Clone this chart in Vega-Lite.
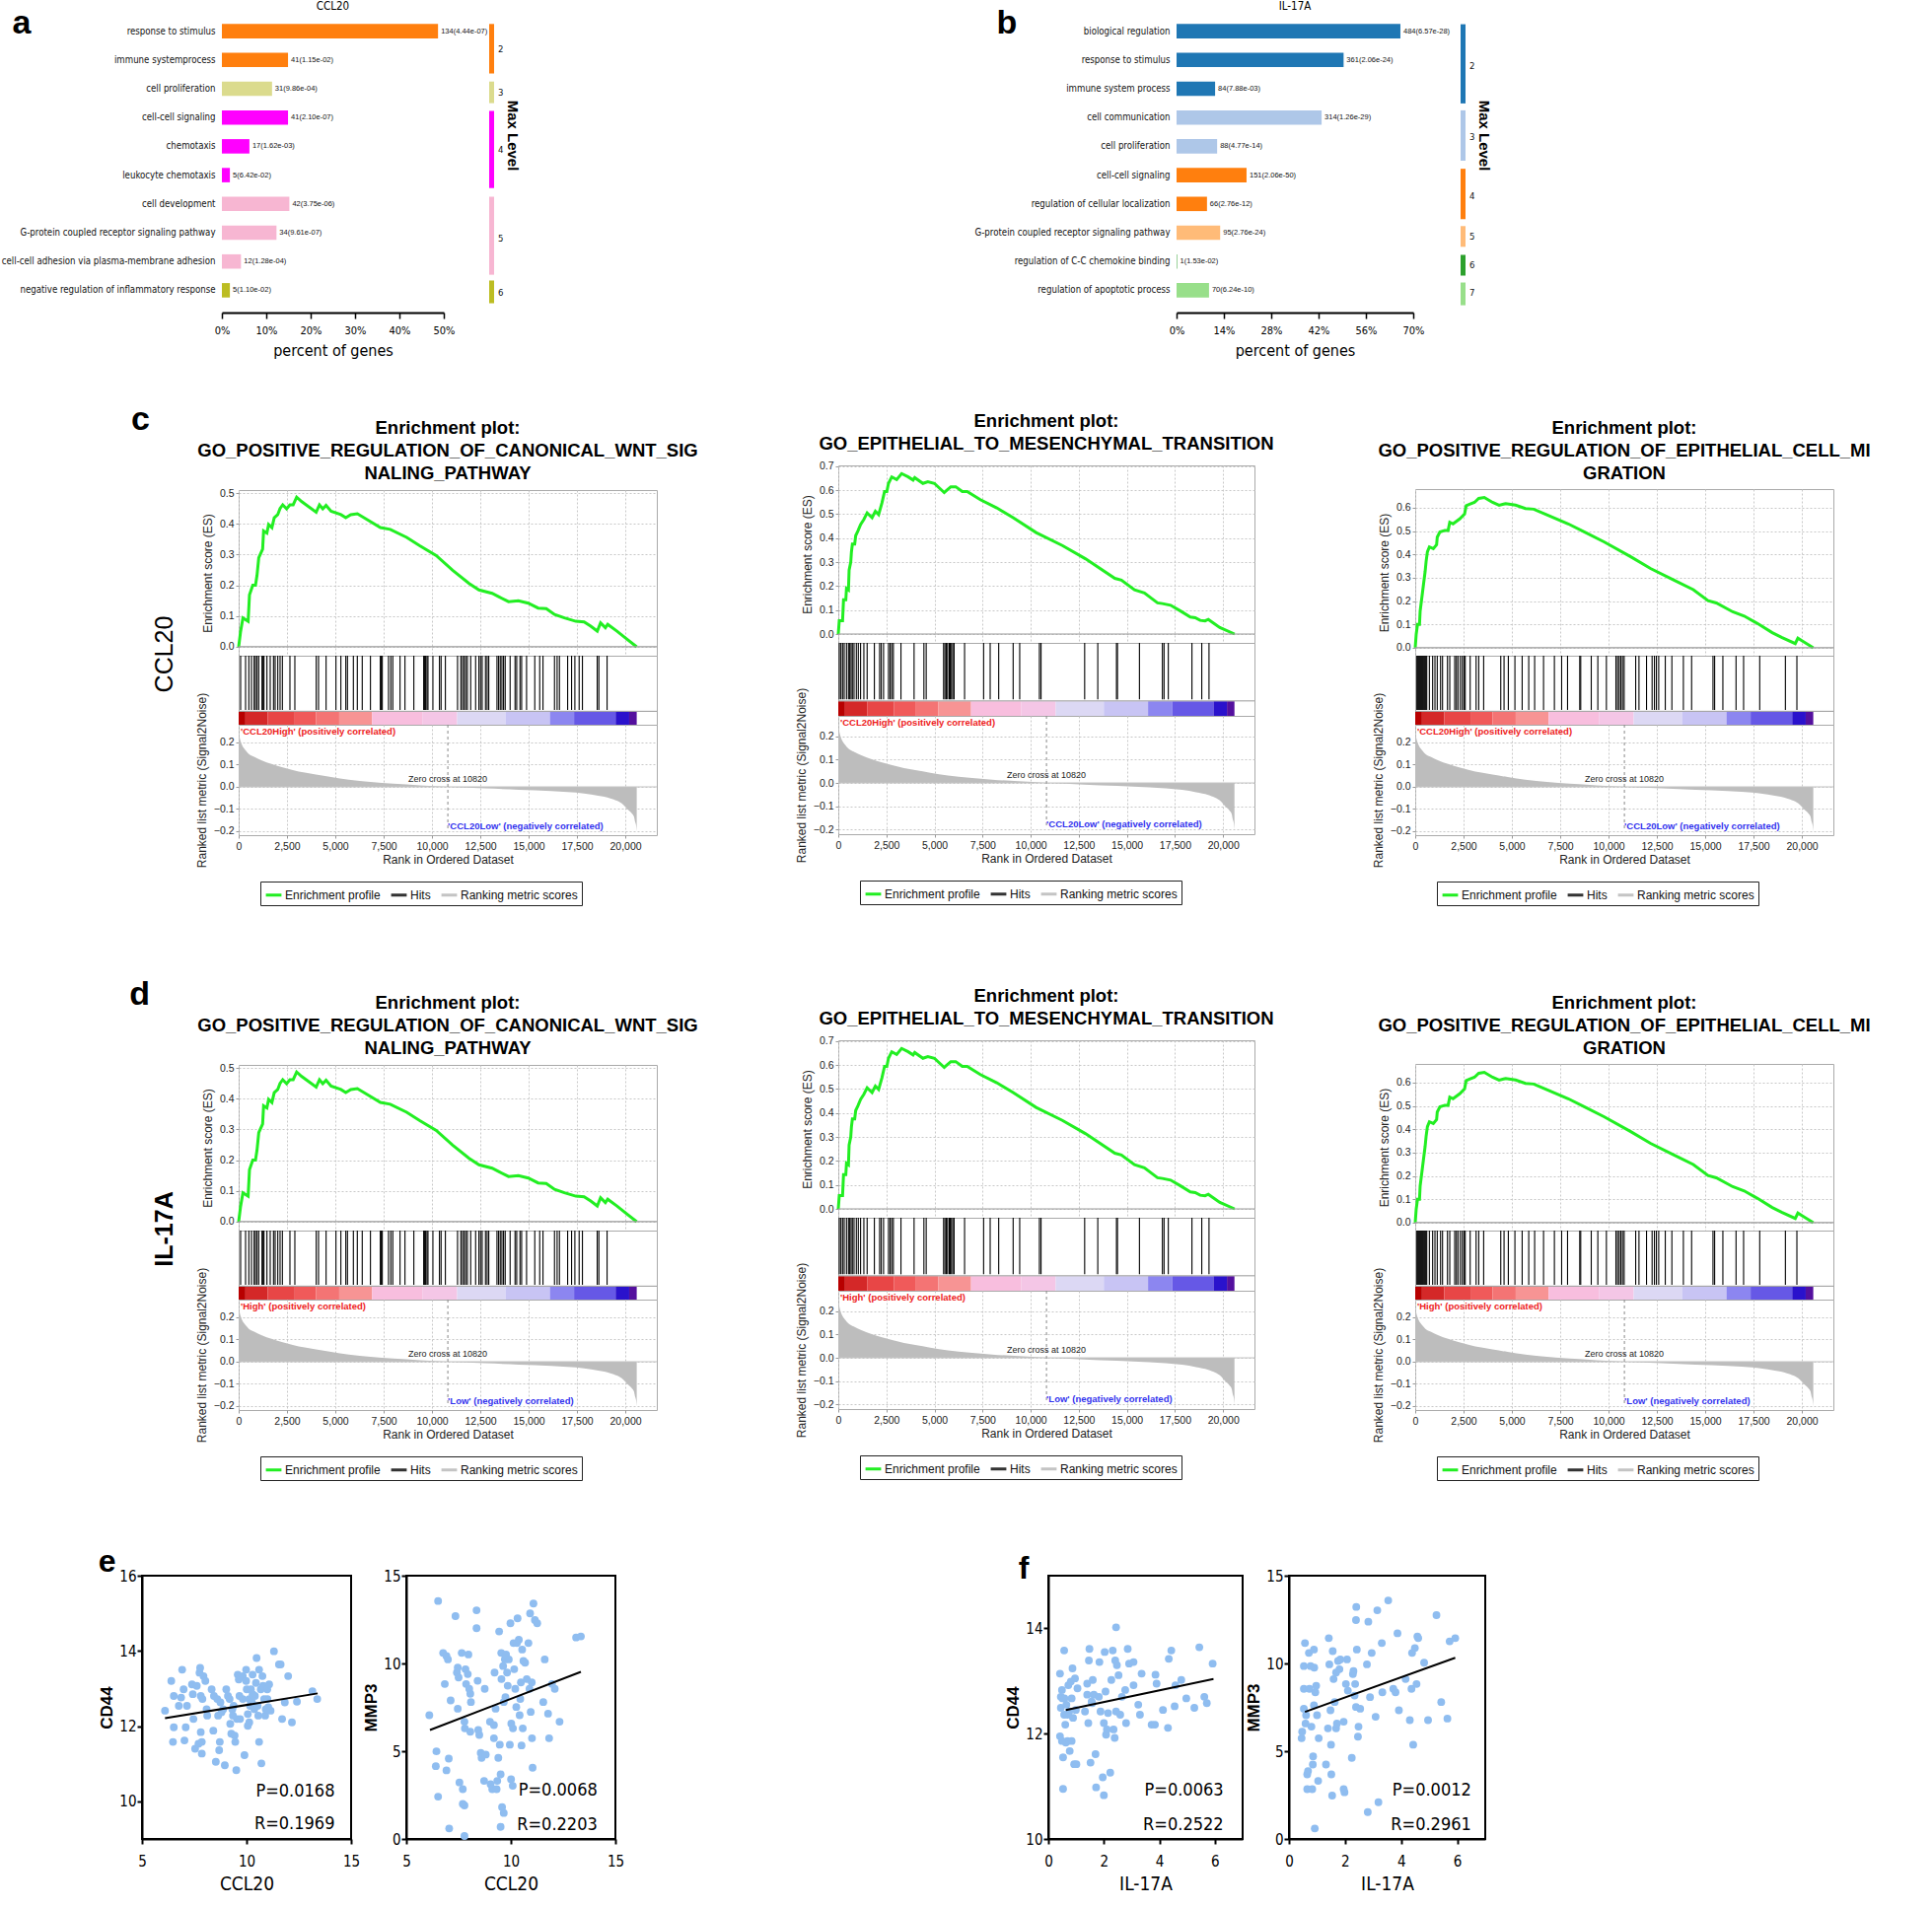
{
"$schema": "https://vega.github.io/schema/vega-lite/v6.json",
"background": "white",
"padding": {"left": 0, "top": 0, "right": 0, "bottom": 0},
"config": {"view": {"stroke": null}, "font": "Liberation Sans", "axis": {"labelFont": "Liberation Sans", "titleFont": "Liberation Sans", "labelColor": "#222", "titleColor": "#222"}, "title": {"font": "Liberation Sans", "color": "#000"}, "legend": {"labelFont": "Liberation Sans"}},
"datasets": {
"goA": [
{"term":"response to stimulus","pct":0.487,"level":"2","label":"134(4.44e-07)"},
{"term":"immune systemprocess","pct":0.149,"level":"2","label":"41(1.15e-02)"},
{"term":"cell proliferation","pct":0.113,"level":"3","label":"31(9.86e-04)"},
{"term":"cell-cell signaling","pct":0.149,"level":"4","label":"41(2.10e-07)"},
{"term":"chemotaxis","pct":0.062,"level":"4","label":"17(1.62e-03)"},
{"term":"leukocyte chemotaxis","pct":0.018,"level":"4","label":"5(6.42e-02)"},
{"term":"cell development","pct":0.152,"level":"5","label":"42(3.75e-06)"},
{"term":"G-protein coupled receptor signaling pathway","pct":0.123,"level":"5","label":"34(9.61e-07)"},
{"term":"cell-cell adhesion via plasma-membrane adhesion","pct":0.043,"level":"5","label":"12(1.28e-04)"},
{"term":"negative regulation of inflammatory response","pct":0.018,"level":"6","label":"5(1.10e-02)"}],
"lvA": [
{"level":"2","start":-0.25,"end":1.47,"mid":0.62},
{"level":"3","start":1.75,"end":2.5,"mid":2.14},
{"level":"4","start":2.77,"end":5.45,"mid":4.13},
{"level":"5","start":5.75,"end":8.46,"mid":7.2},
{"level":"6","start":8.66,"end":9.45,"mid":9.1}],
"goB": [
{"term":"biological regulation","pct":0.662,"level":"2","label":"484(6.57e-28)"},
{"term":"response to stimulus","pct":0.494,"level":"2","label":"361(2.06e-24)"},
{"term":"immune system process","pct":0.114,"level":"2","label":"84(7.88e-03)"},
{"term":"cell communication","pct":0.429,"level":"3","label":"314(1.26e-29)"},
{"term":"cell proliferation","pct":0.12,"level":"3","label":"88(4.77e-14)"},
{"term":"cell-cell signaling","pct":0.207,"level":"4","label":"151(2.06e-50)"},
{"term":"regulation of cellular localization","pct":0.09,"level":"4","label":"66(2.76e-12)"},
{"term":"G-protein coupled receptor signaling pathway","pct":0.129,"level":"5","label":"95(2.76e-24)"},
{"term":"regulation of C-C chemokine binding","pct":0.0014,"level":"6","label":"1(1.53e-02)"},
{"term":"regulation of apoptotic process","pct":0.096,"level":"7","label":"70(6.24e-10)"}],
"lvB": [
{"level":"2","start":-0.24,"end":2.51,"mid":1.2},
{"level":"3","start":2.75,"end":4.5,"mid":3.67},
{"level":"4","start":4.78,"end":6.53,"mid":5.73},
{"level":"5","start":6.77,"end":7.49,"mid":7.14},
{"level":"6","start":7.77,"end":8.49,"mid":8.13},
{"level":"7","start":8.73,"end":9.52,"mid":9.1}],
"es_c1": [
{"rank":0,"es":0},{"rank":100,"es":0.05},{"rank":220,"es":0.094},{"rank":490,"es":0.083},{"rank":560,"es":0.169},{"rank":730,"es":0.2},{"rank":870,"es":0.2},{"rank":950,"es":0.233},{"rank":1040,"es":0.29},{"rank":1240,"es":0.318},{"rank":1290,"es":0.377},{"rank":1460,"es":0.37},{"rank":1550,"es":0.398},{"rank":1720,"es":0.388},{"rank":1840,"es":0.42},{"rank":2020,"es":0.43},{"rank":2140,"es":0.45},{"rank":2280,"es":0.462},{"rank":2480,"es":0.449},{"rank":2650,"es":0.462},{"rank":2820,"es":0.462},{"rank":3000,"es":0.487},{"rank":3250,"es":0.473},{"rank":4010,"es":0.438},{"rank":4180,"es":0.462},{"rank":4350,"es":0.449},{"rank":4520,"es":0.46},{"rank":4780,"es":0.441},{"rank":5290,"es":0.43},{"rank":5540,"es":0.42},{"rank":5800,"es":0.43},{"rank":6140,"es":0.433},{"rank":6650,"es":0.414},{"rank":7330,"es":0.388},{"rank":7840,"es":0.382},{"rank":8690,"es":0.356},{"rank":9370,"es":0.329},{"rank":10220,"es":0.297},{"rank":11070,"es":0.249},{"rank":11920,"es":0.206},{"rank":12430,"es":0.185},{"rank":13110,"es":0.174},{"rank":13450,"es":0.163},{"rank":13960,"es":0.147},{"rank":14470,"es":0.15},{"rank":14980,"es":0.142},{"rank":15490,"es":0.126},{"rank":15910,"es":0.124},{"rank":16340,"es":0.105},{"rank":16850,"es":0.094},{"rank":17440,"es":0.083},{"rank":17870,"es":0.081},{"rank":18210,"es":0.067},{"rank":18550,"es":0.051},{"rank":18720,"es":0.078},{"rank":18970,"es":0.062},{"rank":19090,"es":0.073},{"rank":19570,"es":0.051},{"rank":20080,"es":0.025},{"rank":20590,"es":0}],
"es_c2": [
{"rank":0,"es":0},{"rank":51,"es":0.055},{"rank":222,"es":0.055},{"rank":273,"es":0.143},{"rank":392,"es":0.143},{"rank":426,"es":0.19},{"rank":528,"es":0.184},{"rank":563,"es":0.266},{"rank":648,"es":0.3},{"rank":682,"es":0.341},{"rank":733,"es":0.375},{"rank":853,"es":0.375},{"rank":904,"es":0.41},{"rank":1023,"es":0.43},{"rank":1160,"es":0.457},{"rank":1330,"es":0.478},{"rank":1500,"es":0.505},{"rank":1756,"es":0.485},{"rank":1927,"es":0.512},{"rank":2097,"es":0.498},{"rank":2268,"es":0.546},{"rank":2404,"es":0.594},{"rank":2523,"es":0.594},{"rank":2609,"es":0.628},{"rank":2779,"es":0.655},{"rank":3035,"es":0.644},{"rank":3291,"es":0.669},{"rank":3632,"es":0.655},{"rank":3888,"es":0.642},{"rank":3973,"es":0.652},{"rank":4399,"es":0.628},{"rank":4655,"es":0.635},{"rank":4996,"es":0.628},{"rank":5507,"es":0.59},{"rank":5848,"es":0.614},{"rank":6104,"es":0.614},{"rank":6445,"es":0.594},{"rank":6701,"es":0.594},{"rank":7383,"es":0.56},{"rank":8235,"es":0.526},{"rank":9088,"es":0.485},{"rank":10281,"es":0.423},{"rank":11645,"es":0.369},{"rank":12839,"es":0.314},{"rank":14373,"es":0.232},{"rank":14714,"es":0.225},{"rank":15396,"es":0.184},{"rank":15908,"es":0.171},{"rank":16590,"es":0.13},{"rank":16845,"es":0.127},{"rank":17272,"es":0.12},{"rank":17784,"es":0.096},{"rank":18295,"es":0.071},{"rank":18551,"es":0.068},{"rank":18806,"es":0.057},{"rank":19062,"es":0.055},{"rank":19232,"es":0.061},{"rank":19829,"es":0.027},{"rank":20596,"es":0}],
"es_c3": [
{"rank":0,"es":0},{"rank":51,"es":0.058},{"rank":119,"es":0.1},{"rank":221,"es":0.1},{"rank":255,"es":0.157},{"rank":340,"es":0.213},{"rank":426,"es":0.27},{"rank":511,"es":0.326},{"rank":562,"es":0.369},{"rank":630,"es":0.411},{"rank":732,"es":0.432},{"rank":936,"es":0.425},{"rank":1106,"es":0.442},{"rank":1140,"es":0.474},{"rank":1276,"es":0.496},{"rank":1532,"es":0.503},{"rank":1702,"es":0.503},{"rank":1787,"es":0.538},{"rank":1957,"es":0.531},{"rank":2298,"es":0.552},{"rank":2553,"es":0.573},{"rank":2638,"es":0.609},{"rank":2842,"es":0.616},{"rank":3064,"es":0.623},{"rank":3285,"es":0.64},{"rank":3574,"es":0.644},{"rank":4000,"es":0.623},{"rank":4340,"es":0.611},{"rank":4681,"es":0.618},{"rank":5191,"es":0.611},{"rank":5702,"es":0.597},{"rank":6127,"es":0.594},{"rank":6723,"es":0.573},{"rank":7914,"es":0.531},{"rank":8765,"es":0.496},{"rank":9787,"es":0.453},{"rank":11148,"es":0.39},{"rank":12169,"es":0.34},{"rank":13361,"es":0.291},{"rank":14382,"es":0.249},{"rank":15148,"es":0.202},{"rank":15573,"es":0.192},{"rank":16424,"es":0.154},{"rank":17020,"es":0.136},{"rank":17786,"es":0.1},{"rank":18467,"es":0.065},{"rank":18977,"es":0.044},{"rank":19658,"es":0.018},{"rank":19794,"es":0.041},{"rank":19999,"es":0.03},{"rank":20594,"es":0}],
"hits_c1": [{"rank":102},{"rank":357},{"rank":527},{"rank":663},{"rank":799},{"rank":867},{"rank":952},{"rank":1037},{"rank":1207},{"rank":1258},{"rank":1309},{"rank":1462},{"rank":1632},{"rank":1802},{"rank":1887},{"rank":2023},{"rank":2142},{"rank":2261},{"rank":2652},{"rank":2907},{"rank":4012},{"rank":4131},{"rank":4522},{"rank":5032},{"rank":5287},{"rank":5542},{"rank":5627},{"rank":5933},{"rank":6137},{"rank":6392},{"rank":6817},{"rank":7327},{"rank":7378},{"rank":7429},{"rank":7752},{"rank":7871},{"rank":7973},{"rank":8347},{"rank":8602},{"rank":9061},{"rank":9571},{"rank":9622},{"rank":9673},{"rank":9741},{"rank":9792},{"rank":10047},{"rank":10387},{"rank":10472},{"rank":10693},{"rank":11322},{"rank":11492},{"rank":11577},{"rank":11662},{"rank":11747},{"rank":11832},{"rank":12002},{"rank":12257},{"rank":12427},{"rank":12512},{"rank":12597},{"rank":12767},{"rank":12852},{"rank":12937},{"rank":13362},{"rank":13447},{"rank":13532},{"rank":13617},{"rank":13702},{"rank":13787},{"rank":14042},{"rank":14297},{"rank":14382},{"rank":14552},{"rank":14637},{"rank":14892},{"rank":15317},{"rank":15572},{"rank":15742},{"rank":16337},{"rank":16473},{"rank":16592},{"rank":17017},{"rank":17221},{"rank":17391},{"rank":17612},{"rank":17782},{"rank":18547},{"rank":18632},{"rank":19057}],
"hits_c2": [{"rank":51},{"rank":136},{"rank":222},{"rank":307},{"rank":426},{"rank":529},{"rank":597},{"rank":665},{"rank":733},{"rank":818},{"rank":938},{"rank":1040},{"rank":1159},{"rank":1330},{"rank":1500},{"rank":1876},{"rank":2148},{"rank":2234},{"rank":2353},{"rank":2609},{"rank":2694},{"rank":2779},{"rank":2864},{"rank":3257},{"rank":3939},{"rank":4450},{"rank":4569},{"rank":5473},{"rank":5541},{"rank":5609},{"rank":5678},{"rank":5763},{"rank":5814},{"rank":5882},{"rank":5950},{"rank":6019},{"rank":6564},{"rank":7553},{"rank":7894},{"rank":8337},{"rank":9088},{"rank":9429},{"rank":10452},{"rank":10537},{"rank":12805},{"rank":13487},{"rank":14458},{"rank":14510},{"rank":15652},{"rank":16845},{"rank":16931},{"rank":17152},{"rank":18380},{"rank":18891},{"rank":19267}],
"hits_c3": [{"rank":85},{"rank":136},{"rank":187},{"rank":238},{"rank":289},{"rank":340},{"rank":391},{"rank":443},{"rank":494},{"rank":545},{"rank":596},{"rank":732},{"rank":902},{"rank":1021},{"rank":1140},{"rank":1311},{"rank":1413},{"rank":1668},{"rank":1787},{"rank":2042},{"rank":2128},{"rank":2213},{"rank":2332},{"rank":2434},{"rank":2519},{"rank":2587},{"rank":2842},{"rank":3149},{"rank":3285},{"rank":3540},{"rank":4425},{"rank":4595},{"rank":4817},{"rank":5157},{"rank":5532},{"rank":5872},{"rank":6178},{"rank":6638},{"rank":7199},{"rank":7574},{"rank":7880},{"rank":8510},{"rank":8561},{"rank":9106},{"rank":9446},{"rank":9889},{"rank":10382},{"rank":10467},{"rank":10552},{"rank":10637},{"rank":10723},{"rank":10808},{"rank":11403},{"rank":11574},{"rank":11965},{"rank":12254},{"rank":12374},{"rank":12476},{"rank":12595},{"rank":12935},{"rank":13276},{"rank":13871},{"rank":14297},{"rank":15403},{"rank":15488},{"rank":15914},{"rank":16595},{"rank":16986},{"rank":17820},{"rank":19148},{"rank":19743}],
"band": [{"start":0,"end":350,"seg":"s01"},{"start":350,"end":1500,"seg":"s02"},{"start":1500,"end":2900,"seg":"s03"},{"start":2900,"end":4000,"seg":"s04"},{"start":4000,"end":5200,"seg":"s05"},{"start":5200,"end":6900,"seg":"s06"},{"start":6900,"end":9500,"seg":"s07"},{"start":9500,"end":11300,"seg":"s08"},{"start":11300,"end":13800,"seg":"s09"},{"start":13800,"end":16100,"seg":"s10"},{"start":16100,"end":17350,"seg":"s11"},{"start":17350,"end":19500,"seg":"s12"},{"start":19500,"end":20200,"seg":"s13"},{"start":20200,"end":20590,"seg":"s14"}],
"metric": [{"rank":0,"metric":0.235},{"rank":50,"metric":0.222},{"rank":100,"metric":0.205},{"rank":190,"metric":0.185},{"rank":350,"metric":0.165},{"rank":530,"metric":0.148},{"rank":800,"metric":0.135},{"rank":1200,"metric":0.119},{"rank":1700,"metric":0.103},{"rank":2230,"metric":0.089},{"rank":2800,"metric":0.076},{"rank":3420,"metric":0.064},{"rank":4000,"metric":0.055},{"rank":4780,"metric":0.044},{"rank":5700,"metric":0.032},{"rank":6820,"metric":0.022},{"rank":8000,"metric":0.014},{"rank":9370,"metric":0.007},{"rank":10820,"metric":0},{"rank":12770,"metric":-0.007},{"rank":14500,"metric":-0.013},{"rank":16170,"metric":-0.019},{"rank":17870,"metric":-0.03},{"rank":18600,"metric":-0.04},{"rank":19230,"metric":-0.052},{"rank":19900,"metric":-0.081},{"rank":20100,"metric":-0.1},{"rank":20330,"metric":-0.119},{"rank":20450,"metric":-0.135},{"rank":20500,"metric":-0.156},{"rank":20560,"metric":-0.175},{"rank":20590,"metric":-0.2}],
"sc_e1": [{"x":6.10,"y":12.41},{"x":6.40,"y":13.20},{"x":6.48,"y":11.58},{"x":6.52,"y":11.97},{"x":6.52,"y":12.80},{"x":6.76,"y":12.54},{"x":6.92,"y":13.50},{"x":6.87,"y":12.76},{"x":6.99,"y":12.98},{"x":7.03,"y":11.62},{"x":7.09,"y":11.97},{"x":7.15,"y":12.54},{"x":7.39,"y":13.11},{"x":7.43,"y":12.85},{"x":7.46,"y":12.19},{"x":7.54,"y":11.40},{"x":7.62,"y":13.07},{"x":7.70,"y":11.53},{"x":7.75,"y":13.42},{"x":7.78,"y":13.55},{"x":7.81,"y":12.80},{"x":7.81,"y":11.84},{"x":7.86,"y":11.58},{"x":7.86,"y":11.27},{"x":7.89,"y":12.72},{"x":7.94,"y":13.33},{"x":8.03,"y":13.20},{"x":8.09,"y":12.45},{"x":8.12,"y":12.28},{"x":8.33,"y":12.98},{"x":8.41,"y":11.88},{"x":8.44,"y":12.80},{"x":8.53,"y":11.05},{"x":8.60,"y":12.72},{"x":8.64,"y":12.28},{"x":8.69,"y":11.36},{"x":8.72,"y":11.58},{"x":8.75,"y":12.63},{"x":8.80,"y":12.37},{"x":8.88,"y":12.45},{"x":8.96,"y":10.96},{"x":9.03,"y":12.98},{"x":9.11,"y":12.80},{"x":9.19,"y":12.72},{"x":9.22,"y":12.06},{"x":9.27,"y":11.80},{"x":9.32,"y":12.45},{"x":9.35,"y":12.28},{"x":9.38,"y":12.54},{"x":9.43,"y":11.75},{"x":9.46,"y":11.58},{"x":9.51,"y":10.83},{"x":9.54,"y":12.19},{"x":9.58,"y":13.37},{"x":9.63,"y":13.24},{"x":9.66,"y":12.80},{"x":9.69,"y":12.19},{"x":9.82,"y":12.72},{"x":9.90,"y":11.23},{"x":9.98,"y":13.50},{"x":10.01,"y":12.98},{"x":10.06,"y":12.32},{"x":10.06,"y":12.01},{"x":10.13,"y":12.72},{"x":10.17,"y":12.54},{"x":10.21,"y":12.98},{"x":10.26,"y":12.63},{"x":10.29,"y":13.37},{"x":10.37,"y":12.45},{"x":10.40,"y":12.80},{"x":10.45,"y":13.15},{"x":10.48,"y":13.81},{"x":10.53,"y":12.54},{"x":10.56,"y":12.28},{"x":10.60,"y":11.58},{"x":10.68,"y":12.98},{"x":10.71,"y":11.01},{"x":10.79,"y":13.07},{"x":10.84,"y":12.72},{"x":10.89,"y":12.28},{"x":10.92,"y":12.45},{"x":10.99,"y":12.98},{"x":11.04,"y":12.50},{"x":11.08,"y":13.11},{"x":11.15,"y":12.41},{"x":11.31,"y":13.99},{"x":11.55,"y":13.64},{"x":11.63,"y":13.64},{"x":11.70,"y":12.19},{"x":11.83,"y":12.63},{"x":11.99,"y":13.33},{"x":12.17,"y":12.10},{"x":12.41,"y":12.65},{"x":13.15,"y":12.93},{"x":13.38,"y":12.72},{"x":9.82,"y":13.33},{"x":9.98,"y":13.20},{"x":10.13,"y":12.10},{"x":10.60,"y":13.50},{"x":10.76,"y":13.33},{"x":10.29,"y":12.85},{"x":11.0,"y":12.72}],
"sc_e2": [{"x":6.10,"y":7.05},{"x":6.44,"y":4.99},{"x":6.41,"y":4.15},{"x":6.52,"y":2.41},{"x":6.92,"y":3.91},{"x":7.03,"y":4.58},{"x":7.05,"y":0.60},{"x":6.76,"y":10.60},{"x":6.84,"y":8.83},{"x":6.92,"y":10.42},{"x":6.99,"y":10.23},{"x":7.12,"y":7.89},{"x":6.52,"y":13.56},{"x":7.35,"y":12.70},{"x":7.42,"y":9.48},{"x":7.46,"y":9.76},{"x":7.50,"y":9.20},{"x":7.46,"y":7.42},{"x":7.54,"y":3.22},{"x":7.65,"y":10.60},{"x":7.70,"y":2.84},{"x":7.78,"y":1.91},{"x":7.78,"y":6.68},{"x":7.78,"y":0.17},{"x":7.80,"y":6.30},{"x":7.83,"y":9.67},{"x":7.86,"y":8.83},{"x":7.94,"y":9.39},{"x":7.97,"y":10.51},{"x":8.01,"y":8.55},{"x":8.06,"y":8.27},{"x":8.06,"y":6.11},{"x":8.09,"y":7.80},{"x":8.36,"y":13.03},{"x":8.36,"y":12.01},{"x":8.41,"y":9.01},{"x":8.44,"y":6.21},{"x":8.49,"y":5.93},{"x":8.56,"y":4.90},{"x":8.60,"y":4.62},{"x":8.72,"y":3.31},{"x":8.75,"y":8.55},{"x":8.80,"y":4.81},{"x":9.00,"y":6.68},{"x":9.03,"y":3.12},{"x":9.11,"y":2.84},{"x":9.19,"y":6.49},{"x":9.19,"y":5.74},{"x":9.22,"y":9.48},{"x":9.27,"y":7.42},{"x":9.32,"y":2.84},{"x":9.35,"y":3.31},{"x":9.40,"y":4.62},{"x":9.44,"y":11.82},{"x":9.47,"y":5.37},{"x":9.51,"y":3.68},{"x":9.54,"y":10.60},{"x":9.55,"y":9.11},{"x":9.58,"y":1.81},{"x":9.63,"y":9.85},{"x":9.66,"y":7.80},{"x":9.71,"y":10.23},{"x":9.74,"y":8.08},{"x":9.77,"y":10.51},{"x":9.82,"y":9.48},{"x":9.85,"y":8.73},{"x":9.90,"y":10.23},{"x":9.95,"y":5.37},{"x":9.98,"y":12.29},{"x":10.01,"y":3.40},{"x":10.02,"y":6.58},{"x":10.10,"y":6.30},{"x":10.09,"y":3.03},{"x":10.13,"y":11.16},{"x":10.16,"y":9.67},{"x":10.21,"y":8.55},{"x":10.26,"y":7.52},{"x":10.29,"y":11.16},{"x":10.32,"y":12.57},{"x":10.38,"y":11.35},{"x":10.42,"y":7.05},{"x":10.45,"y":7.98},{"x":10.48,"y":8.92},{"x":10.51,"y":5.33},{"x":10.54,"y":10.79},{"x":10.57,"y":6.30},{"x":10.60,"y":10.14},{"x":10.68,"y":10.04},{"x":10.76,"y":9.11},{"x":10.84,"y":11.16},{"x":10.89,"y":8.55},{"x":10.92,"y":12.85},{"x":10.95,"y":7.24},{"x":11.00,"y":8.92},{"x":11.01,"y":5.74},{"x":11.04,"y":4.06},{"x":11.08,"y":13.41},{"x":11.15,"y":12.47},{"x":11.26,"y":12.29},{"x":11.55,"y":7.80},{"x":11.62,"y":10.23},{"x":11.78,"y":7.14},{"x":11.83,"y":5.74},{"x":11.97,"y":8.83},{"x":12.10,"y":8.55},{"x":12.33,"y":6.68},{"x":13.12,"y":11.48},{"x":13.35,"y":11.54},{"x":9.51,"y":0.69},{"x":9.66,"y":1.48},{"x":7.70,"y":2.0}],
"sc_f1": [{"x":0.42,"y":13.14},{"x":0.42,"y":11.95},{"x":0.45,"y":12.70},{"x":0.45,"y":12.49},{"x":0.49,"y":12.83},{"x":0.51,"y":12.67},{"x":0.53,"y":10.95},{"x":0.53,"y":11.55},{"x":0.57,"y":13.58},{"x":0.57,"y":12.36},{"x":0.61,"y":12.17},{"x":0.63,"y":11.83},{"x":0.65,"y":12.55},{"x":0.69,"y":11.86},{"x":0.72,"y":12.92},{"x":0.75,"y":12.42},{"x":0.77,"y":11.67},{"x":0.81,"y":12.99},{"x":0.84,"y":12.67},{"x":0.84,"y":11.86},{"x":0.87,"y":13.24},{"x":0.89,"y":12.30},{"x":0.93,"y":11.42},{"x":0.96,"y":13.05},{"x":0.99,"y":12.45},{"x":1.01,"y":11.42},{"x":1.05,"y":12.86},{"x":1.32,"y":12.42},{"x":1.40,"y":12.74},{"x":1.40,"y":12.95},{"x":1.44,"y":12.20},{"x":1.46,"y":13.39},{"x":1.48,"y":13.61},{"x":1.52,"y":11.45},{"x":1.56,"y":12.61},{"x":1.58,"y":12.58},{"x":1.60,"y":13.02},{"x":1.64,"y":12.74},{"x":1.70,"y":11.61},{"x":1.72,"y":10.98},{"x":1.82,"y":12.70},{"x":1.84,"y":13.36},{"x":1.88,"y":12.42},{"x":1.96,"y":11.17},{"x":2.00,"y":12.20},{"x":2.00,"y":10.83},{"x":2.03,"y":13.55},{"x":2.06,"y":12.80},{"x":2.08,"y":11.98},{"x":2.11,"y":12.08},{"x":2.15,"y":12.39},{"x":2.23,"y":11.26},{"x":2.27,"y":13.02},{"x":2.32,"y":13.58},{"x":2.35,"y":12.08},{"x":2.39,"y":11.92},{"x":2.41,"y":13.39},{"x":2.44,"y":12.42},{"x":2.44,"y":14.02},{"x":2.47,"y":13.30},{"x":2.53,"y":13.11},{"x":2.59,"y":12.36},{"x":2.65,"y":12.70},{"x":2.77,"y":12.83},{"x":2.80,"y":12.20},{"x":2.86,"y":13.61},{"x":2.91,"y":13.33},{"x":3.07,"y":13.36},{"x":3.07,"y":12.92},{"x":3.24,"y":12.55},{"x":3.30,"y":12.36},{"x":3.36,"y":13.14},{"x":3.72,"y":12.17},{"x":3.84,"y":12.17},{"x":3.86,"y":13.12},{"x":3.90,"y":12.95},{"x":4.13,"y":12.45},{"x":4.31,"y":12.11},{"x":4.34,"y":13.42},{"x":4.43,"y":13.58},{"x":4.55,"y":12.52},{"x":4.58,"y":12.92},{"x":4.79,"y":13.02},{"x":4.97,"y":12.67},{"x":5.26,"y":12.49},{"x":5.44,"y":13.64},{"x":5.62,"y":12.70},{"x":5.71,"y":12.58},{"x":5.92,"y":13.33},{"x":0.58,"y":12.67},{"x":0.69,"y":12.36},{"x":0.49,"y":11.86}],
"sc_f2": [{"x":0.45,"y":5.74},{"x":0.47,"y":6.11},{"x":0.53,"y":7.42},{"x":0.53,"y":8.55},{"x":0.53,"y":9.85},{"x":0.57,"y":11.16},{"x":0.59,"y":6.58},{"x":0.61,"y":7.05},{"x":0.65,"y":3.68},{"x":0.65,"y":2.84},{"x":0.68,"y":3.87},{"x":0.71,"y":10.60},{"x":0.73,"y":8.55},{"x":0.77,"y":9.85},{"x":0.80,"y":6.40},{"x":0.83,"y":2.84},{"x":0.85,"y":4.24},{"x":0.86,"y":4.71},{"x":0.89,"y":10.79},{"x":0.89,"y":7.61},{"x":0.90,"y":9.76},{"x":0.92,"y":0.60},{"x":0.94,"y":8.36},{"x":0.97,"y":8.73},{"x":1.00,"y":7.05},{"x":1.04,"y":3.31},{"x":1.06,"y":5.74},{"x":1.32,"y":4.24},{"x":1.39,"y":6.30},{"x":1.42,"y":11.44},{"x":1.44,"y":9.95},{"x":1.48,"y":7.33},{"x":1.50,"y":5.37},{"x":1.51,"y":3.68},{"x":1.54,"y":2.47},{"x":1.56,"y":10.70},{"x":1.59,"y":9.11},{"x":1.63,"y":7.80},{"x":1.68,"y":9.48},{"x":1.68,"y":6.30},{"x":1.71,"y":6.58},{"x":1.75,"y":10.14},{"x":1.80,"y":9.67},{"x":1.83,"y":10.23},{"x":1.95,"y":6.68},{"x":1.98,"y":2.66},{"x":2.03,"y":8.83},{"x":2.07,"y":10.23},{"x":2.10,"y":8.45},{"x":2.24,"y":4.62},{"x":2.28,"y":9.39},{"x":2.30,"y":9.57},{"x":2.34,"y":8.17},{"x":2.36,"y":8.83},{"x":2.39,"y":7.52},{"x":2.39,"y":12.47},{"x":2.40,"y":13.22},{"x":2.42,"y":10.79},{"x":2.46,"y":5.83},{"x":2.54,"y":7.42},{"x":2.78,"y":9.95},{"x":2.83,"y":12.38},{"x":2.89,"y":8.08},{"x":2.95,"y":10.60},{"x":3.09,"y":6.96},{"x":3.15,"y":13.03},{"x":3.19,"y":2.09},{"x":3.31,"y":11.16},{"x":3.33,"y":8.36},{"x":3.54,"y":13.59},{"x":3.72,"y":8.55},{"x":3.80,"y":8.36},{"x":3.87,"y":11.72},{"x":3.92,"y":7.33},{"x":4.16,"y":9.11},{"x":4.31,"y":6.77},{"x":4.37,"y":8.55},{"x":4.39,"y":10.60},{"x":4.43,"y":5.37},{"x":4.49,"y":10.88},{"x":4.55,"y":8.83},{"x":4.58,"y":11.54},{"x":4.61,"y":11.44},{"x":4.82,"y":10.04},{"x":4.96,"y":6.77},{"x":5.26,"y":12.75},{"x":5.43,"y":7.80},{"x":5.65,"y":6.86},{"x":5.73,"y":11.26},{"x":5.93,"y":11.44},{"x":2.48,"y":6.40},{"x":1.95,"y":2.84},{"x":2.81,"y":1.53}],
"ln_e1": [{"x":6.1,"y":12.21},{"x":13.4,"y":12.87}],
"ln_e2": [{"x":6.13,"y":6.21},{"x":13.35,"y":9.52}],
"ln_f1": [{"x":0.63,"y":12.45},{"x":5.95,"y":13.04}],
"ln_f2": [{"x":0.57,"y":7.24},{"x":5.93,"y":10.32}]
},
"spacing": 46,
"resolve": {"scale": {"color": "independent"}},
"vconcat": [
{"spacing": 0, "resolve": {"scale": {"color": "independent"}}, "hconcat": [
 {"width": 1, "height": 10, "data": {"values": [{}]}, "mark": {"type": "text", "text": " "}},
 {"spacing": 462, "resolve": {"scale": {"color": "independent"}}, "hconcat": [
 {"bounds": "flush", "spacing": 46, "resolve": {"scale": {"color": "independent"}}, "hconcat": [
  {"width": 225, "height": 292,
   "title": {"text": "CCL20", "fontSize": 11.5, "font": "DejaVu Sans Condensed", "fontWeight": "normal", "offset": -6},
   "data": {"name": "goA"},
   "layer": [
    {"mark": {"type": "bar"}, "encoding": {
      "y": {"field": "term", "type": "nominal", "sort": null, "scale": {"paddingInner": 0.5, "paddingOuter": 0.25}, "axis": {"title": "a", "titleAngle": 0, "titleFontSize": 34, "titleFontWeight": "bold", "titleFont": "Liberation Sans", "titleColor": "#000", "titleAlign": "left", "titleBaseline": "alphabetic", "titleX": -213, "titleY": 16, "labelFont": "DejaVu Sans Condensed", "labelFontSize": 9.6, "labelColor": "#111", "labelPadding": 7, "ticks": false, "domain": false, "labelLimit": 400}},
      "x": {"field": "pct", "type": "quantitative", "scale": {"domain": [0, 0.5], "nice": false}, "axis": {"values": [0, 0.1, 0.2, 0.3, 0.4, 0.5], "tickCount": 6, "format": ".0%", "domainColor": "#000", "domainWidth": 2, "tickColor": "#000", "tickWidth": 1.5, "tickSize": 6, "offset": 8, "labelFont": "DejaVu Sans Condensed", "labelFontSize": 11, "labelColor": "#000", "labelPadding": 6, "labelFlush": false, "labelOverlap": false, "title": "percent of genes", "titleFont": "DejaVu Sans Condensed", "titleFontSize": 16, "titleFontWeight": "normal", "titleColor": "#000", "titlePadding": 7, "grid": false}},
      "color": {"field": "level", "type": "nominal", "scale": {"domain": ["2", "3", "4", "5", "6"], "range": ["#ff7f0e", "#dbdb8d", "#ff00ff", "#f7b6d2", "#bcbd22"]}, "legend": null}}},
    {"mark": {"type": "text", "align": "left", "baseline": "middle", "dx": 3, "fontSize": 7.5, "font": "Liberation Sans", "color": "#111"}, "encoding": {
      "y": {"field": "term", "type": "nominal", "sort": null},
      "x": {"field": "pct", "type": "quantitative"},
      "text": {"field": "label"}}}
   ]},
  {"width": 5, "height": 292,
   "data": {"name": "lvA"},
   "layer": [
    {"mark": {"type": "rect"}, "encoding": {
      "y": {"field": "start", "type": "quantitative", "scale": {"domain": [-0.5, 9.5], "reverse": true, "nice": false, "zero": false}, "axis": {"orient": "right", "title": "Max Level", "titleFontSize": 15, "titleFontWeight": "bold", "titleColor": "#000", "titlePadding": 10, "titleY": 120, "labels": false, "ticks": false, "domain": false, "grid": false}},
      "y2": {"field": "end"},
      "x": {"datum": 0, "type": "quantitative", "scale": {"domain": [0, 1], "nice": false}, "axis": null},
      "x2": {"datum": 1},
      "color": {"field": "level", "type": "nominal", "scale": {"domain": ["2", "3", "4", "5", "6"], "range": ["#ff7f0e", "#dbdb8d", "#ff00ff", "#f7b6d2", "#bcbd22"]}, "legend": null}}},
    {"mark": {"type": "text", "align": "left", "baseline": "middle", "dx": 4, "fontSize": 9.5, "font": "DejaVu Sans Condensed", "color": "#111"}, "encoding": {
      "y": {"field": "mid", "type": "quantitative", "axis": {"orient": "right", "title": "Max Level", "titleFontSize": 15, "titleFontWeight": "bold", "titleColor": "#000", "titlePadding": 10, "titleY": 120, "labels": false, "ticks": false, "domain": false, "grid": false}},
      "x": {"datum": 1, "type": "quantitative", "axis": null},
      "text": {"field": "level"}}}
   ]}
 ]},
 {"bounds": "flush", "spacing": 48, "resolve": {"scale": {"color": "independent"}}, "hconcat": [
  {"width": 240, "height": 292,
   "title": {"text": "IL-17A", "fontSize": 11.5, "font": "DejaVu Sans Condensed", "fontWeight": "normal", "offset": -6},
   "data": {"name": "goB"},
   "layer": [
    {"mark": {"type": "bar"}, "encoding": {
      "y": {"field": "term", "type": "nominal", "sort": null, "scale": {"paddingInner": 0.5, "paddingOuter": 0.25}, "axis": {"title": "b", "titleAngle": 0, "titleFontSize": 34, "titleFontWeight": "bold", "titleFont": "Liberation Sans", "titleColor": "#000", "titleAlign": "left", "titleBaseline": "alphabetic", "titleX": -183, "titleY": 16, "labelFont": "DejaVu Sans Condensed", "labelFontSize": 9.6, "labelColor": "#111", "labelPadding": 7, "ticks": false, "domain": false, "labelLimit": 400}},
      "x": {"field": "pct", "type": "quantitative", "scale": {"domain": [0, 0.7], "nice": false}, "axis": {"values": [0, 0.14, 0.28, 0.42, 0.56, 0.7], "tickCount": 6, "format": ".0%", "domainColor": "#000", "domainWidth": 2, "tickColor": "#000", "tickWidth": 1.5, "tickSize": 6, "offset": 8, "labelFont": "DejaVu Sans Condensed", "labelFontSize": 11, "labelColor": "#000", "labelPadding": 6, "labelFlush": false, "labelOverlap": false, "title": "percent of genes", "titleFont": "DejaVu Sans Condensed", "titleFontSize": 16, "titleFontWeight": "normal", "titleColor": "#000", "titlePadding": 7, "grid": false}},
      "color": {"field": "level", "type": "nominal", "scale": {"domain": ["2", "3", "4", "5", "6", "7"], "range": ["#1f77b4", "#aec7e8", "#ff7f0e", "#ffbb78", "#2ca02c", "#98df8a"]}, "legend": null}}},
    {"mark": {"type": "text", "align": "left", "baseline": "middle", "dx": 3, "fontSize": 7.5, "font": "Liberation Sans", "color": "#111"}, "encoding": {
      "y": {"field": "term", "type": "nominal", "sort": null},
      "x": {"field": "pct", "type": "quantitative"},
      "text": {"field": "label"}}}
   ]},
  {"width": 5, "height": 292,
   "data": {"name": "lvB"},
   "layer": [
    {"mark": {"type": "rect"}, "encoding": {
      "y": {"field": "start", "type": "quantitative", "scale": {"domain": [-0.5, 9.5], "reverse": true, "nice": false, "zero": false}, "axis": {"orient": "right", "title": "Max Level", "titleFontSize": 15, "titleFontWeight": "bold", "titleColor": "#000", "titlePadding": 10, "titleY": 120, "labels": false, "ticks": false, "domain": false, "grid": false}},
      "y2": {"field": "end"},
      "x": {"datum": 0, "type": "quantitative", "scale": {"domain": [0, 1], "nice": false}, "axis": null},
      "x2": {"datum": 1},
      "color": {"field": "level", "type": "nominal", "scale": {"domain": ["2", "3", "4", "5", "6", "7"], "range": ["#1f77b4", "#aec7e8", "#ff7f0e", "#ffbb78", "#2ca02c", "#98df8a"]}, "legend": null}}},
    {"mark": {"type": "text", "align": "left", "baseline": "middle", "dx": 4, "fontSize": 9.5, "font": "DejaVu Sans Condensed", "color": "#111"}, "encoding": {
      "y": {"field": "mid", "type": "quantitative", "axis": {"orient": "right", "title": "Max Level", "titleFontSize": 15, "titleFontWeight": "bold", "titleColor": "#000", "titlePadding": 10, "titleY": 120, "labels": false, "ticks": false, "domain": false, "grid": false}},
      "x": {"datum": 1, "type": "quantitative", "axis": null},
      "text": {"field": "level"}}}
   ]}
 ]}
 ]}
]},
{
"spacing": 73,
"resolve": {"scale": {"color": "independent"}},
"vconcat": [
{"align": "none", "spacing": 18, "resolve": {"scale": {"color": "independent"}}, "hconcat": [
 {"width": 152, "height": 382,
  "title": {"text": "c", "anchor": "end", "frame": "group", "fontSize": 34, "fontWeight": "bold", "font": "Liberation Sans", "offset": 29},
  "data": {"values": [{}]},
  "mark": {"type": "text", "text": " "},
  "encoding": {"y": {"datum": 0, "type": "quantitative", "scale": {"domain": [0, 1]}, "axis": {"orient": "right", "title": "CCL20", "titleFontSize": 25, "titleFontWeight": "normal", "titleColor": "#000", "titleAngle": 270, "titleBaseline": "top", "titlePadding": 2, "labels": false, "ticks": false, "domain": false, "grid": false}}}},
 {"align": "none", "spacing": 97, "resolve": {"scale": {"color": "independent"}}, "hconcat": [
  {"bounds": "flush", "spacing": 0, "resolve": {"scale": {"color": "independent"}},
   "vconcat": [
    {"width": 424, "height": 25, "title": {"text": ["Enrichment plot:", "GO_POSITIVE_REGULATION_OF_CANONICAL_WNT_SIG", "NALING_PATHWAY"], "anchor": "middle", "frame": "group", "fontSize": 18.5, "fontWeight": "bold", "font": "Liberation Sans", "lineHeight": 23, "offset": -17, "color": "#000"}, "data": {"values": [{}]}, "mark": {"type": "text", "text": " "}},
    {"width": 424, "height": 168, "view": {"stroke": "#aaaaaa"},
     "layer": [
      {"data": {"name": "es_c1"}, "mark": {"type": "line", "color": "#22ee22", "strokeWidth": 3}, "encoding": {
        "x": {"field": "rank", "type": "quantitative", "scale": {"domain": [0, 21630], "nice": false, "zero": false}, "axis": {"values": [0, 2500, 5000, 7500, 10000, 12500, 15000, 17500, 20000], "tickCount": 9, "labels": false, "ticks": false, "domain": false, "title": null, "grid": true, "gridDash": [2, 2], "gridColor": "#c8c8c8"}},
        "y": {"field": "es", "type": "quantitative", "scale": {"domain": [-0.029, 0.51], "nice": false, "zero": false}, "axis": {"values": [0, 0.1, 0.2, 0.3, 0.4, 0.5], "tickCount": 6, "format": ".1f", "labelOverlap": false, "title": "Enrichment score (ES)", "titleFontSize": 12, "titleFontWeight": "normal", "labelFontSize": 10.5, "tickSize": 3, "tickColor": "#999", "domain": false, "grid": true, "gridDash": [2, 2], "gridColor": "#c8c8c8", "titlePadding": 5, "labelPadding": 2}}}},
      {"data": {"values": [{}]}, "mark": {"type": "rule", "color": "#9a9a9a", "strokeWidth": 1.2}, "encoding": {"y": {"datum": 0, "type": "quantitative"}}}
     ]},
    {"width": 424, "height": 70, "view": {"stroke": "#aaaaaa"},
     "layer": [
      {"data": {"name": "band"}, "mark": {"type": "rect"}, "encoding": {
        "x": {"field": "start", "type": "quantitative", "scale": {"domain": [0, 21630], "nice": false, "zero": false}, "axis": null},
        "x2": {"field": "end"},
        "y": {"datum": 0, "type": "quantitative", "scale": {"domain": [0, 1], "nice": false}, "axis": null},
        "y2": {"datum": 0.19},
        "color": {"field": "seg", "type": "nominal", "scale": {"domain": ["s01","s02","s03","s04","s05","s06","s07","s08","s09","s10","s11","s12","s13","s14"], "range": ["#b80000","#d42828","#e84646","#f05a5a","#f47474","#f79494","#f8bede","#f4c6e6","#dcd8f4","#c8c4f4","#8c86f0","#6658e6","#2a12cc","#54109e"]}, "legend": null}}},
      {"data": {"name": "hits_c1"}, "mark": {"type": "rule", "color": "#000", "strokeWidth": 1.1}, "encoding": {"x": {"field": "rank", "type": "quantitative", "axis": null}, "y": {"datum": 0.215, "axis": null}, "y2": {"datum": 1}}},
      {"data": {"values": [{}]}, "mark": {"type": "rule", "color": "#999", "strokeWidth": 1}, "encoding": {"y": {"datum": 0.195, "axis": null}}}
     ]},
    {"width": 424, "height": 112, "view": {"stroke": "#aaaaaa"},
     "layer": [
      {"data": {"name": "metric"}, "mark": {"type": "area", "interpolate": "monotone", "color": "#bdbdbd"}, "encoding": {
        "x": {"field": "rank", "type": "quantitative", "scale": {"domain": [0, 21630], "nice": false, "zero": false}, "axis": {"values": [0, 2500, 5000, 7500, 10000, 12500, 15000, 17500, 20000], "tickCount": 9, "format": ",.0f", "labelFontSize": 10.5, "labelOverlap": false, "labelFlush": false, "tickSize": 3, "tickColor": "#999", "domain": false, "grid": true, "gridDash": [2, 2], "gridColor": "#c8c8c8", "title": "Rank in Ordered Dataset", "titleFontSize": 12, "titleFontWeight": "normal", "titlePadding": 3, "labelPadding": 3}},
        "y": {"field": "metric", "type": "quantitative", "scale": {"domain": [-0.218, 0.28], "nice": false, "zero": false}, "axis": {"values": [-0.2, -0.1, 0, 0.1, 0.2], "tickCount": 5, "format": ".1f", "labelOverlap": false, "labelFontSize": 10.5, "tickSize": 3, "tickColor": "#999", "domain": false, "grid": true, "gridDash": [2, 2], "gridColor": "#c8c8c8", "title": "Ranked list metric (Signal2Noise)", "titleFontSize": 12, "titleFontWeight": "normal", "titlePadding": 5, "labelPadding": 2}},
        "y2": {"datum": 0}}},
      {"data": {"values": [{}]}, "mark": {"type": "rule", "strokeWidth": 1}, "encoding": {"y": {"datum": 0, "type": "quantitative"}, "color": {"datum": "Ranking metric scores", "type": "nominal", "scale": {"domain": ["Enrichment profile", "Hits", "Ranking metric scores"], "range": ["#22ee22", "#333333", "#c4c4c4"]}, "legend": {"orient": "none", "legendX": 22, "legendY": 159, "direction": "horizontal", "title": null, "symbolType": "stroke", "symbolStrokeWidth": 3, "symbolSize": 250, "labelFontSize": 12, "labelColor": "#111", "strokeColor": "#222", "padding": 4, "columnPadding": 4, "labelOffset": 2}}}},
      {"data": {"values": [{}]}, "mark": {"type": "rule", "strokeDash": [3, 3], "color": "#888", "strokeWidth": 1}, "encoding": {"x": {"datum": 10820}, "y": {"datum": 0.28, "type": "quantitative"}, "y2": {"datum": -0.19}}},
      {"data": {"values": [{}]}, "mark": {"type": "text", "text": "Zero cross at 10820", "fontSize": 9, "baseline": "bottom", "dy": -3, "color": "#222"}, "encoding": {"x": {"datum": 10820}, "y": {"datum": 0, "type": "quantitative"}}},
      {"data": {"values": [{}]}, "mark": {"type": "text", "text": "'CCL20High' (positively correlated)", "fontSize": 9.5, "fontWeight": "bold", "align": "left", "baseline": "top", "dx": 2, "dy": 2, "color": "#ee2222"}, "encoding": {"x": {"datum": 0}, "y": {"datum": 0.28, "type": "quantitative"}}},
      {"data": {"values": [{}]}, "mark": {"type": "text", "text": "'CCL20Low' (negatively correlated)", "fontSize": 9.5, "fontWeight": "bold", "align": "left", "baseline": "bottom", "color": "#3333ee"}, "encoding": {"x": {"datum": 10820}, "y": {"datum": -0.2, "type": "quantitative"}}}
     ]}
   ]},
  {"bounds": "flush", "spacing": 0, "resolve": {"scale": {"color": "independent"}},
   "vconcat": [
    {"width": 422, "height": 180, "view": {"stroke": "#aaaaaa"},
     "title": {"text": ["Enrichment plot:", "GO_EPITHELIAL_TO_MESENCHYMAL_TRANSITION"], "anchor": "middle", "frame": "group", "fontSize": 18.5, "fontWeight": "bold", "font": "Liberation Sans", "lineHeight": 23, "offset": 8, "color": "#000"},
     "layer": [
      {"data": {"name": "es_c2"}, "mark": {"type": "line", "color": "#22ee22", "strokeWidth": 3}, "encoding": {
        "x": {"field": "rank", "type": "quantitative", "scale": {"domain": [0, 21630], "nice": false, "zero": false}, "axis": {"values": [0, 2500, 5000, 7500, 10000, 12500, 15000, 17500, 20000], "tickCount": 9, "labels": false, "ticks": false, "domain": false, "title": null, "grid": true, "gridDash": [2, 2], "gridColor": "#c8c8c8"}},
        "y": {"field": "es", "type": "quantitative", "scale": {"domain": [-0.037, 0.703], "nice": false, "zero": false}, "axis": {"values": [0, 0.1, 0.2, 0.3, 0.4, 0.5, 0.6, 0.7], "tickCount": 8, "format": ".1f", "labelOverlap": false, "title": "Enrichment score (ES)", "titleFontSize": 12, "titleFontWeight": "normal", "labelFontSize": 10.5, "tickSize": 3, "tickColor": "#999", "domain": false, "grid": true, "gridDash": [2, 2], "gridColor": "#c8c8c8", "titlePadding": 5, "labelPadding": 2}}}},
      {"data": {"values": [{}]}, "mark": {"type": "rule", "color": "#9a9a9a", "strokeWidth": 1.2}, "encoding": {"y": {"datum": 0, "type": "quantitative"}}}
     ]},
    {"width": 422, "height": 74, "view": {"stroke": "#aaaaaa"},
     "layer": [
      {"data": {"name": "band"}, "mark": {"type": "rect"}, "encoding": {
        "x": {"field": "start", "type": "quantitative", "scale": {"domain": [0, 21630], "nice": false, "zero": false}, "axis": null},
        "x2": {"field": "end"},
        "y": {"datum": 0, "type": "quantitative", "scale": {"domain": [0, 1], "nice": false}, "axis": null},
        "y2": {"datum": 0.2},
        "color": {"field": "seg", "type": "nominal", "scale": {"domain": ["s01","s02","s03","s04","s05","s06","s07","s08","s09","s10","s11","s12","s13","s14"], "range": ["#b80000","#d42828","#e84646","#f05a5a","#f47474","#f79494","#f8bede","#f4c6e6","#dcd8f4","#c8c4f4","#8c86f0","#6658e6","#2a12cc","#54109e"]}, "legend": null}}},
      {"data": {"name": "hits_c2"}, "mark": {"type": "rule", "color": "#000", "strokeWidth": 1.1}, "encoding": {"x": {"field": "rank", "type": "quantitative", "axis": null}, "y": {"datum": 0.225, "axis": null}, "y2": {"datum": 1}}},
      {"data": {"values": [{}]}, "mark": {"type": "rule", "color": "#999", "strokeWidth": 1}, "encoding": {"y": {"datum": 0.205, "axis": null}}}
     ]},
    {"width": 422, "height": 120, "view": {"stroke": "#aaaaaa"},
     "layer": [
      {"data": {"name": "metric"}, "mark": {"type": "area", "interpolate": "monotone", "color": "#bdbdbd"}, "encoding": {
        "x": {"field": "rank", "type": "quantitative", "scale": {"domain": [0, 21630], "nice": false, "zero": false}, "axis": {"values": [0, 2500, 5000, 7500, 10000, 12500, 15000, 17500, 20000], "tickCount": 9, "format": ",.0f", "labelFontSize": 10.5, "labelOverlap": false, "labelFlush": false, "tickSize": 3, "tickColor": "#999", "domain": false, "grid": true, "gridDash": [2, 2], "gridColor": "#c8c8c8", "title": "Rank in Ordered Dataset", "titleFontSize": 12, "titleFontWeight": "normal", "titlePadding": 3, "labelPadding": 3}},
        "y": {"field": "metric", "type": "quantitative", "scale": {"domain": [-0.221, 0.289], "nice": false, "zero": false}, "axis": {"values": [-0.2, -0.1, 0, 0.1, 0.2], "tickCount": 5, "format": ".1f", "labelOverlap": false, "labelFontSize": 10.5, "tickSize": 3, "tickColor": "#999", "domain": false, "grid": true, "gridDash": [2, 2], "gridColor": "#c8c8c8", "title": "Ranked list metric (Signal2Noise)", "titleFontSize": 12, "titleFontWeight": "normal", "titlePadding": 5, "labelPadding": 2}},
        "y2": {"datum": 0}}},
      {"data": {"values": [{}]}, "mark": {"type": "rule", "strokeWidth": 1}, "encoding": {"y": {"datum": 0, "type": "quantitative"}, "color": {"datum": "Ranking metric scores", "type": "nominal", "scale": {"domain": ["Enrichment profile", "Hits", "Ranking metric scores"], "range": ["#22ee22", "#333333", "#c4c4c4"]}, "legend": {"orient": "none", "legendX": 22, "legendY": 167, "direction": "horizontal", "title": null, "symbolType": "stroke", "symbolStrokeWidth": 3, "symbolSize": 250, "labelFontSize": 12, "labelColor": "#111", "strokeColor": "#222", "padding": 4, "columnPadding": 4, "labelOffset": 2}}}},
      {"data": {"values": [{}]}, "mark": {"type": "rule", "strokeDash": [3, 3], "color": "#888", "strokeWidth": 1}, "encoding": {"x": {"datum": 10820}, "y": {"datum": 0.289, "type": "quantitative"}, "y2": {"datum": -0.19}}},
      {"data": {"values": [{}]}, "mark": {"type": "text", "text": "Zero cross at 10820", "fontSize": 9, "baseline": "bottom", "dy": -3, "color": "#222"}, "encoding": {"x": {"datum": 10820}, "y": {"datum": 0, "type": "quantitative"}}},
      {"data": {"values": [{}]}, "mark": {"type": "text", "text": "'CCL20High' (positively correlated)", "fontSize": 9.5, "fontWeight": "bold", "align": "left", "baseline": "top", "dx": 2, "dy": 2, "color": "#ee2222"}, "encoding": {"x": {"datum": 0}, "y": {"datum": 0.289, "type": "quantitative"}}},
      {"data": {"values": [{}]}, "mark": {"type": "text", "text": "'CCL20Low' (negatively correlated)", "fontSize": 9.5, "fontWeight": "bold", "align": "left", "baseline": "bottom", "color": "#3333ee"}, "encoding": {"x": {"datum": 10820}, "y": {"datum": -0.2, "type": "quantitative"}}}
     ]}
   ]},
  {"bounds": "flush", "spacing": 0, "resolve": {"scale": {"color": "independent"}},
   "vconcat": [
    {"width": 424, "height": 24, "title": {"text": ["Enrichment plot:", "GO_POSITIVE_REGULATION_OF_EPITHELIAL_CELL_MI", "GRATION"], "anchor": "middle", "frame": "group", "fontSize": 18.5, "fontWeight": "bold", "font": "Liberation Sans", "lineHeight": 23, "offset": -17, "color": "#000"}, "data": {"values": [{}]}, "mark": {"type": "text", "text": " "}},
    {"width": 424, "height": 169, "view": {"stroke": "#aaaaaa"},
     "layer": [
      {"data": {"name": "es_c3"}, "mark": {"type": "line", "color": "#22ee22", "strokeWidth": 3}, "encoding": {
        "x": {"field": "rank", "type": "quantitative", "scale": {"domain": [0, 21630], "nice": false, "zero": false}, "axis": {"values": [0, 2500, 5000, 7500, 10000, 12500, 15000, 17500, 20000], "tickCount": 9, "labels": false, "ticks": false, "domain": false, "title": null, "grid": true, "gridDash": [2, 2], "gridColor": "#c8c8c8"}},
        "y": {"field": "es", "type": "quantitative", "scale": {"domain": [-0.034, 0.68], "nice": false, "zero": false}, "axis": {"values": [0, 0.1, 0.2, 0.3, 0.4, 0.5, 0.6], "tickCount": 7, "format": ".1f", "labelOverlap": false, "title": "Enrichment score (ES)", "titleFontSize": 12, "titleFontWeight": "normal", "labelFontSize": 10.5, "tickSize": 3, "tickColor": "#999", "domain": false, "grid": true, "gridDash": [2, 2], "gridColor": "#c8c8c8", "titlePadding": 5, "labelPadding": 2}}}},
      {"data": {"values": [{}]}, "mark": {"type": "rule", "color": "#9a9a9a", "strokeWidth": 1.2}, "encoding": {"y": {"datum": 0, "type": "quantitative"}}}
     ]},
    {"width": 424, "height": 70, "view": {"stroke": "#aaaaaa"},
     "layer": [
      {"data": {"name": "band"}, "mark": {"type": "rect"}, "encoding": {
        "x": {"field": "start", "type": "quantitative", "scale": {"domain": [0, 21630], "nice": false, "zero": false}, "axis": null},
        "x2": {"field": "end"},
        "y": {"datum": 0, "type": "quantitative", "scale": {"domain": [0, 1], "nice": false}, "axis": null},
        "y2": {"datum": 0.19},
        "color": {"field": "seg", "type": "nominal", "scale": {"domain": ["s01","s02","s03","s04","s05","s06","s07","s08","s09","s10","s11","s12","s13","s14"], "range": ["#b80000","#d42828","#e84646","#f05a5a","#f47474","#f79494","#f8bede","#f4c6e6","#dcd8f4","#c8c4f4","#8c86f0","#6658e6","#2a12cc","#54109e"]}, "legend": null}}},
      {"data": {"name": "hits_c3"}, "mark": {"type": "rule", "color": "#000", "strokeWidth": 1.1}, "encoding": {"x": {"field": "rank", "type": "quantitative", "axis": null}, "y": {"datum": 0.215, "axis": null}, "y2": {"datum": 1}}},
      {"data": {"values": [{}]}, "mark": {"type": "rule", "color": "#999", "strokeWidth": 1}, "encoding": {"y": {"datum": 0.195, "axis": null}}}
     ]},
    {"width": 424, "height": 112, "view": {"stroke": "#aaaaaa"},
     "layer": [
      {"data": {"name": "metric"}, "mark": {"type": "area", "interpolate": "monotone", "color": "#bdbdbd"}, "encoding": {
        "x": {"field": "rank", "type": "quantitative", "scale": {"domain": [0, 21630], "nice": false, "zero": false}, "axis": {"values": [0, 2500, 5000, 7500, 10000, 12500, 15000, 17500, 20000], "tickCount": 9, "format": ",.0f", "labelFontSize": 10.5, "labelOverlap": false, "labelFlush": false, "tickSize": 3, "tickColor": "#999", "domain": false, "grid": true, "gridDash": [2, 2], "gridColor": "#c8c8c8", "title": "Rank in Ordered Dataset", "titleFontSize": 12, "titleFontWeight": "normal", "titlePadding": 3, "labelPadding": 3}},
        "y": {"field": "metric", "type": "quantitative", "scale": {"domain": [-0.218, 0.28], "nice": false, "zero": false}, "axis": {"values": [-0.2, -0.1, 0, 0.1, 0.2], "tickCount": 5, "format": ".1f", "labelOverlap": false, "labelFontSize": 10.5, "tickSize": 3, "tickColor": "#999", "domain": false, "grid": true, "gridDash": [2, 2], "gridColor": "#c8c8c8", "title": "Ranked list metric (Signal2Noise)", "titleFontSize": 12, "titleFontWeight": "normal", "titlePadding": 5, "labelPadding": 2}},
        "y2": {"datum": 0}}},
      {"data": {"values": [{}]}, "mark": {"type": "rule", "strokeWidth": 1}, "encoding": {"y": {"datum": 0, "type": "quantitative"}, "color": {"datum": "Ranking metric scores", "type": "nominal", "scale": {"domain": ["Enrichment profile", "Hits", "Ranking metric scores"], "range": ["#22ee22", "#333333", "#c4c4c4"]}, "legend": {"orient": "none", "legendX": 22, "legendY": 159, "direction": "horizontal", "title": null, "symbolType": "stroke", "symbolStrokeWidth": 3, "symbolSize": 250, "labelFontSize": 12, "labelColor": "#111", "strokeColor": "#222", "padding": 4, "columnPadding": 4, "labelOffset": 2}}}},
      {"data": {"values": [{}]}, "mark": {"type": "rule", "strokeDash": [3, 3], "color": "#888", "strokeWidth": 1}, "encoding": {"x": {"datum": 10820}, "y": {"datum": 0.28, "type": "quantitative"}, "y2": {"datum": -0.19}}},
      {"data": {"values": [{}]}, "mark": {"type": "text", "text": "Zero cross at 10820", "fontSize": 9, "baseline": "bottom", "dy": -3, "color": "#222"}, "encoding": {"x": {"datum": 10820}, "y": {"datum": 0, "type": "quantitative"}}},
      {"data": {"values": [{}]}, "mark": {"type": "text", "text": "'CCL20High' (positively correlated)", "fontSize": 9.5, "fontWeight": "bold", "align": "left", "baseline": "top", "dx": 2, "dy": 2, "color": "#ee2222"}, "encoding": {"x": {"datum": 0}, "y": {"datum": 0.28, "type": "quantitative"}}},
      {"data": {"values": [{}]}, "mark": {"type": "text", "text": "'CCL20Low' (negatively correlated)", "fontSize": 9.5, "fontWeight": "bold", "align": "left", "baseline": "bottom", "color": "#3333ee"}, "encoding": {"x": {"datum": 10820}, "y": {"datum": -0.2, "type": "quantitative"}}}
     ]}
   ]}
 ]}
]},
{"spacing": 65, "resolve": {"scale": {"color": "independent"}}, "vconcat": [
{"align": "none", "spacing": 18, "resolve": {"scale": {"color": "independent"}}, "hconcat": [
 {"width": 152, "height": 382,
  "title": {"text": "d", "anchor": "end", "frame": "group", "fontSize": 34, "fontWeight": "bold", "font": "Liberation Sans", "offset": 29},
  "data": {"values": [{}]},
  "mark": {"type": "text", "text": " "},
  "encoding": {"y": {"datum": 0, "type": "quantitative", "scale": {"domain": [0, 1]}, "axis": {"orient": "right", "title": "IL-17A", "titleFontSize": 25, "titleFontWeight": "bold", "titleColor": "#000", "titleAngle": 270, "titleBaseline": "top", "titlePadding": 2, "labels": false, "ticks": false, "domain": false, "grid": false}}}},
 {"align": "none", "spacing": 97, "resolve": {"scale": {"color": "independent"}}, "hconcat": [
  {"bounds": "flush", "spacing": 0, "resolve": {"scale": {"color": "independent"}},
   "vconcat": [
    {"width": 424, "height": 25, "title": {"text": ["Enrichment plot:", "GO_POSITIVE_REGULATION_OF_CANONICAL_WNT_SIG", "NALING_PATHWAY"], "anchor": "middle", "frame": "group", "fontSize": 18.5, "fontWeight": "bold", "font": "Liberation Sans", "lineHeight": 23, "offset": -17, "color": "#000"}, "data": {"values": [{}]}, "mark": {"type": "text", "text": " "}},
    {"width": 424, "height": 168, "view": {"stroke": "#aaaaaa"},
     "layer": [
      {"data": {"name": "es_c1"}, "mark": {"type": "line", "color": "#22ee22", "strokeWidth": 3}, "encoding": {
        "x": {"field": "rank", "type": "quantitative", "scale": {"domain": [0, 21630], "nice": false, "zero": false}, "axis": {"values": [0, 2500, 5000, 7500, 10000, 12500, 15000, 17500, 20000], "tickCount": 9, "labels": false, "ticks": false, "domain": false, "title": null, "grid": true, "gridDash": [2, 2], "gridColor": "#c8c8c8"}},
        "y": {"field": "es", "type": "quantitative", "scale": {"domain": [-0.029, 0.51], "nice": false, "zero": false}, "axis": {"values": [0, 0.1, 0.2, 0.3, 0.4, 0.5], "tickCount": 6, "format": ".1f", "labelOverlap": false, "title": "Enrichment score (ES)", "titleFontSize": 12, "titleFontWeight": "normal", "labelFontSize": 10.5, "tickSize": 3, "tickColor": "#999", "domain": false, "grid": true, "gridDash": [2, 2], "gridColor": "#c8c8c8", "titlePadding": 5, "labelPadding": 2}}}},
      {"data": {"values": [{}]}, "mark": {"type": "rule", "color": "#9a9a9a", "strokeWidth": 1.2}, "encoding": {"y": {"datum": 0, "type": "quantitative"}}}
     ]},
    {"width": 424, "height": 70, "view": {"stroke": "#aaaaaa"},
     "layer": [
      {"data": {"name": "band"}, "mark": {"type": "rect"}, "encoding": {
        "x": {"field": "start", "type": "quantitative", "scale": {"domain": [0, 21630], "nice": false, "zero": false}, "axis": null},
        "x2": {"field": "end"},
        "y": {"datum": 0, "type": "quantitative", "scale": {"domain": [0, 1], "nice": false}, "axis": null},
        "y2": {"datum": 0.19},
        "color": {"field": "seg", "type": "nominal", "scale": {"domain": ["s01","s02","s03","s04","s05","s06","s07","s08","s09","s10","s11","s12","s13","s14"], "range": ["#b80000","#d42828","#e84646","#f05a5a","#f47474","#f79494","#f8bede","#f4c6e6","#dcd8f4","#c8c4f4","#8c86f0","#6658e6","#2a12cc","#54109e"]}, "legend": null}}},
      {"data": {"name": "hits_c1"}, "mark": {"type": "rule", "color": "#000", "strokeWidth": 1.1}, "encoding": {"x": {"field": "rank", "type": "quantitative", "axis": null}, "y": {"datum": 0.215, "axis": null}, "y2": {"datum": 1}}},
      {"data": {"values": [{}]}, "mark": {"type": "rule", "color": "#999", "strokeWidth": 1}, "encoding": {"y": {"datum": 0.195, "axis": null}}}
     ]},
    {"width": 424, "height": 112, "view": {"stroke": "#aaaaaa"},
     "layer": [
      {"data": {"name": "metric"}, "mark": {"type": "area", "interpolate": "monotone", "color": "#bdbdbd"}, "encoding": {
        "x": {"field": "rank", "type": "quantitative", "scale": {"domain": [0, 21630], "nice": false, "zero": false}, "axis": {"values": [0, 2500, 5000, 7500, 10000, 12500, 15000, 17500, 20000], "tickCount": 9, "format": ",.0f", "labelFontSize": 10.5, "labelOverlap": false, "labelFlush": false, "tickSize": 3, "tickColor": "#999", "domain": false, "grid": true, "gridDash": [2, 2], "gridColor": "#c8c8c8", "title": "Rank in Ordered Dataset", "titleFontSize": 12, "titleFontWeight": "normal", "titlePadding": 3, "labelPadding": 3}},
        "y": {"field": "metric", "type": "quantitative", "scale": {"domain": [-0.218, 0.28], "nice": false, "zero": false}, "axis": {"values": [-0.2, -0.1, 0, 0.1, 0.2], "tickCount": 5, "format": ".1f", "labelOverlap": false, "labelFontSize": 10.5, "tickSize": 3, "tickColor": "#999", "domain": false, "grid": true, "gridDash": [2, 2], "gridColor": "#c8c8c8", "title": "Ranked list metric (Signal2Noise)", "titleFontSize": 12, "titleFontWeight": "normal", "titlePadding": 5, "labelPadding": 2}},
        "y2": {"datum": 0}}},
      {"data": {"values": [{}]}, "mark": {"type": "rule", "strokeWidth": 1}, "encoding": {"y": {"datum": 0, "type": "quantitative"}, "color": {"datum": "Ranking metric scores", "type": "nominal", "scale": {"domain": ["Enrichment profile", "Hits", "Ranking metric scores"], "range": ["#22ee22", "#333333", "#c4c4c4"]}, "legend": {"orient": "none", "legendX": 22, "legendY": 159, "direction": "horizontal", "title": null, "symbolType": "stroke", "symbolStrokeWidth": 3, "symbolSize": 250, "labelFontSize": 12, "labelColor": "#111", "strokeColor": "#222", "padding": 4, "columnPadding": 4, "labelOffset": 2}}}},
      {"data": {"values": [{}]}, "mark": {"type": "rule", "strokeDash": [3, 3], "color": "#888", "strokeWidth": 1}, "encoding": {"x": {"datum": 10820}, "y": {"datum": 0.28, "type": "quantitative"}, "y2": {"datum": -0.19}}},
      {"data": {"values": [{}]}, "mark": {"type": "text", "text": "Zero cross at 10820", "fontSize": 9, "baseline": "bottom", "dy": -3, "color": "#222"}, "encoding": {"x": {"datum": 10820}, "y": {"datum": 0, "type": "quantitative"}}},
      {"data": {"values": [{}]}, "mark": {"type": "text", "text": "'High' (positively correlated)", "fontSize": 9.5, "fontWeight": "bold", "align": "left", "baseline": "top", "dx": 2, "dy": 2, "color": "#ee2222"}, "encoding": {"x": {"datum": 0}, "y": {"datum": 0.28, "type": "quantitative"}}},
      {"data": {"values": [{}]}, "mark": {"type": "text", "text": "'Low' (negatively correlated)", "fontSize": 9.5, "fontWeight": "bold", "align": "left", "baseline": "bottom", "color": "#3333ee"}, "encoding": {"x": {"datum": 10820}, "y": {"datum": -0.2, "type": "quantitative"}}}
     ]}
   ]},
  {"bounds": "flush", "spacing": 0, "resolve": {"scale": {"color": "independent"}},
   "vconcat": [
    {"width": 422, "height": 180, "view": {"stroke": "#aaaaaa"},
     "title": {"text": ["Enrichment plot:", "GO_EPITHELIAL_TO_MESENCHYMAL_TRANSITION"], "anchor": "middle", "frame": "group", "fontSize": 18.5, "fontWeight": "bold", "font": "Liberation Sans", "lineHeight": 23, "offset": 8, "color": "#000"},
     "layer": [
      {"data": {"name": "es_c2"}, "mark": {"type": "line", "color": "#22ee22", "strokeWidth": 3}, "encoding": {
        "x": {"field": "rank", "type": "quantitative", "scale": {"domain": [0, 21630], "nice": false, "zero": false}, "axis": {"values": [0, 2500, 5000, 7500, 10000, 12500, 15000, 17500, 20000], "tickCount": 9, "labels": false, "ticks": false, "domain": false, "title": null, "grid": true, "gridDash": [2, 2], "gridColor": "#c8c8c8"}},
        "y": {"field": "es", "type": "quantitative", "scale": {"domain": [-0.037, 0.703], "nice": false, "zero": false}, "axis": {"values": [0, 0.1, 0.2, 0.3, 0.4, 0.5, 0.6, 0.7], "tickCount": 8, "format": ".1f", "labelOverlap": false, "title": "Enrichment score (ES)", "titleFontSize": 12, "titleFontWeight": "normal", "labelFontSize": 10.5, "tickSize": 3, "tickColor": "#999", "domain": false, "grid": true, "gridDash": [2, 2], "gridColor": "#c8c8c8", "titlePadding": 5, "labelPadding": 2}}}},
      {"data": {"values": [{}]}, "mark": {"type": "rule", "color": "#9a9a9a", "strokeWidth": 1.2}, "encoding": {"y": {"datum": 0, "type": "quantitative"}}}
     ]},
    {"width": 422, "height": 74, "view": {"stroke": "#aaaaaa"},
     "layer": [
      {"data": {"name": "band"}, "mark": {"type": "rect"}, "encoding": {
        "x": {"field": "start", "type": "quantitative", "scale": {"domain": [0, 21630], "nice": false, "zero": false}, "axis": null},
        "x2": {"field": "end"},
        "y": {"datum": 0, "type": "quantitative", "scale": {"domain": [0, 1], "nice": false}, "axis": null},
        "y2": {"datum": 0.2},
        "color": {"field": "seg", "type": "nominal", "scale": {"domain": ["s01","s02","s03","s04","s05","s06","s07","s08","s09","s10","s11","s12","s13","s14"], "range": ["#b80000","#d42828","#e84646","#f05a5a","#f47474","#f79494","#f8bede","#f4c6e6","#dcd8f4","#c8c4f4","#8c86f0","#6658e6","#2a12cc","#54109e"]}, "legend": null}}},
      {"data": {"name": "hits_c2"}, "mark": {"type": "rule", "color": "#000", "strokeWidth": 1.1}, "encoding": {"x": {"field": "rank", "type": "quantitative", "axis": null}, "y": {"datum": 0.225, "axis": null}, "y2": {"datum": 1}}},
      {"data": {"values": [{}]}, "mark": {"type": "rule", "color": "#999", "strokeWidth": 1}, "encoding": {"y": {"datum": 0.205, "axis": null}}}
     ]},
    {"width": 422, "height": 120, "view": {"stroke": "#aaaaaa"},
     "layer": [
      {"data": {"name": "metric"}, "mark": {"type": "area", "interpolate": "monotone", "color": "#bdbdbd"}, "encoding": {
        "x": {"field": "rank", "type": "quantitative", "scale": {"domain": [0, 21630], "nice": false, "zero": false}, "axis": {"values": [0, 2500, 5000, 7500, 10000, 12500, 15000, 17500, 20000], "tickCount": 9, "format": ",.0f", "labelFontSize": 10.5, "labelOverlap": false, "labelFlush": false, "tickSize": 3, "tickColor": "#999", "domain": false, "grid": true, "gridDash": [2, 2], "gridColor": "#c8c8c8", "title": "Rank in Ordered Dataset", "titleFontSize": 12, "titleFontWeight": "normal", "titlePadding": 3, "labelPadding": 3}},
        "y": {"field": "metric", "type": "quantitative", "scale": {"domain": [-0.221, 0.289], "nice": false, "zero": false}, "axis": {"values": [-0.2, -0.1, 0, 0.1, 0.2], "tickCount": 5, "format": ".1f", "labelOverlap": false, "labelFontSize": 10.5, "tickSize": 3, "tickColor": "#999", "domain": false, "grid": true, "gridDash": [2, 2], "gridColor": "#c8c8c8", "title": "Ranked list metric (Signal2Noise)", "titleFontSize": 12, "titleFontWeight": "normal", "titlePadding": 5, "labelPadding": 2}},
        "y2": {"datum": 0}}},
      {"data": {"values": [{}]}, "mark": {"type": "rule", "strokeWidth": 1}, "encoding": {"y": {"datum": 0, "type": "quantitative"}, "color": {"datum": "Ranking metric scores", "type": "nominal", "scale": {"domain": ["Enrichment profile", "Hits", "Ranking metric scores"], "range": ["#22ee22", "#333333", "#c4c4c4"]}, "legend": {"orient": "none", "legendX": 22, "legendY": 167, "direction": "horizontal", "title": null, "symbolType": "stroke", "symbolStrokeWidth": 3, "symbolSize": 250, "labelFontSize": 12, "labelColor": "#111", "strokeColor": "#222", "padding": 4, "columnPadding": 4, "labelOffset": 2}}}},
      {"data": {"values": [{}]}, "mark": {"type": "rule", "strokeDash": [3, 3], "color": "#888", "strokeWidth": 1}, "encoding": {"x": {"datum": 10820}, "y": {"datum": 0.289, "type": "quantitative"}, "y2": {"datum": -0.19}}},
      {"data": {"values": [{}]}, "mark": {"type": "text", "text": "Zero cross at 10820", "fontSize": 9, "baseline": "bottom", "dy": -3, "color": "#222"}, "encoding": {"x": {"datum": 10820}, "y": {"datum": 0, "type": "quantitative"}}},
      {"data": {"values": [{}]}, "mark": {"type": "text", "text": "'High' (positively correlated)", "fontSize": 9.5, "fontWeight": "bold", "align": "left", "baseline": "top", "dx": 2, "dy": 2, "color": "#ee2222"}, "encoding": {"x": {"datum": 0}, "y": {"datum": 0.289, "type": "quantitative"}}},
      {"data": {"values": [{}]}, "mark": {"type": "text", "text": "'Low' (negatively correlated)", "fontSize": 9.5, "fontWeight": "bold", "align": "left", "baseline": "bottom", "color": "#3333ee"}, "encoding": {"x": {"datum": 10820}, "y": {"datum": -0.2, "type": "quantitative"}}}
     ]}
   ]},
  {"bounds": "flush", "spacing": 0, "resolve": {"scale": {"color": "independent"}},
   "vconcat": [
    {"width": 424, "height": 24, "title": {"text": ["Enrichment plot:", "GO_POSITIVE_REGULATION_OF_EPITHELIAL_CELL_MI", "GRATION"], "anchor": "middle", "frame": "group", "fontSize": 18.5, "fontWeight": "bold", "font": "Liberation Sans", "lineHeight": 23, "offset": -17, "color": "#000"}, "data": {"values": [{}]}, "mark": {"type": "text", "text": " "}},
    {"width": 424, "height": 169, "view": {"stroke": "#aaaaaa"},
     "layer": [
      {"data": {"name": "es_c3"}, "mark": {"type": "line", "color": "#22ee22", "strokeWidth": 3}, "encoding": {
        "x": {"field": "rank", "type": "quantitative", "scale": {"domain": [0, 21630], "nice": false, "zero": false}, "axis": {"values": [0, 2500, 5000, 7500, 10000, 12500, 15000, 17500, 20000], "tickCount": 9, "labels": false, "ticks": false, "domain": false, "title": null, "grid": true, "gridDash": [2, 2], "gridColor": "#c8c8c8"}},
        "y": {"field": "es", "type": "quantitative", "scale": {"domain": [-0.034, 0.68], "nice": false, "zero": false}, "axis": {"values": [0, 0.1, 0.2, 0.3, 0.4, 0.5, 0.6], "tickCount": 7, "format": ".1f", "labelOverlap": false, "title": "Enrichment score (ES)", "titleFontSize": 12, "titleFontWeight": "normal", "labelFontSize": 10.5, "tickSize": 3, "tickColor": "#999", "domain": false, "grid": true, "gridDash": [2, 2], "gridColor": "#c8c8c8", "titlePadding": 5, "labelPadding": 2}}}},
      {"data": {"values": [{}]}, "mark": {"type": "rule", "color": "#9a9a9a", "strokeWidth": 1.2}, "encoding": {"y": {"datum": 0, "type": "quantitative"}}}
     ]},
    {"width": 424, "height": 70, "view": {"stroke": "#aaaaaa"},
     "layer": [
      {"data": {"name": "band"}, "mark": {"type": "rect"}, "encoding": {
        "x": {"field": "start", "type": "quantitative", "scale": {"domain": [0, 21630], "nice": false, "zero": false}, "axis": null},
        "x2": {"field": "end"},
        "y": {"datum": 0, "type": "quantitative", "scale": {"domain": [0, 1], "nice": false}, "axis": null},
        "y2": {"datum": 0.19},
        "color": {"field": "seg", "type": "nominal", "scale": {"domain": ["s01","s02","s03","s04","s05","s06","s07","s08","s09","s10","s11","s12","s13","s14"], "range": ["#b80000","#d42828","#e84646","#f05a5a","#f47474","#f79494","#f8bede","#f4c6e6","#dcd8f4","#c8c4f4","#8c86f0","#6658e6","#2a12cc","#54109e"]}, "legend": null}}},
      {"data": {"name": "hits_c3"}, "mark": {"type": "rule", "color": "#000", "strokeWidth": 1.1}, "encoding": {"x": {"field": "rank", "type": "quantitative", "axis": null}, "y": {"datum": 0.215, "axis": null}, "y2": {"datum": 1}}},
      {"data": {"values": [{}]}, "mark": {"type": "rule", "color": "#999", "strokeWidth": 1}, "encoding": {"y": {"datum": 0.195, "axis": null}}}
     ]},
    {"width": 424, "height": 112, "view": {"stroke": "#aaaaaa"},
     "layer": [
      {"data": {"name": "metric"}, "mark": {"type": "area", "interpolate": "monotone", "color": "#bdbdbd"}, "encoding": {
        "x": {"field": "rank", "type": "quantitative", "scale": {"domain": [0, 21630], "nice": false, "zero": false}, "axis": {"values": [0, 2500, 5000, 7500, 10000, 12500, 15000, 17500, 20000], "tickCount": 9, "format": ",.0f", "labelFontSize": 10.5, "labelOverlap": false, "labelFlush": false, "tickSize": 3, "tickColor": "#999", "domain": false, "grid": true, "gridDash": [2, 2], "gridColor": "#c8c8c8", "title": "Rank in Ordered Dataset", "titleFontSize": 12, "titleFontWeight": "normal", "titlePadding": 3, "labelPadding": 3}},
        "y": {"field": "metric", "type": "quantitative", "scale": {"domain": [-0.218, 0.28], "nice": false, "zero": false}, "axis": {"values": [-0.2, -0.1, 0, 0.1, 0.2], "tickCount": 5, "format": ".1f", "labelOverlap": false, "labelFontSize": 10.5, "tickSize": 3, "tickColor": "#999", "domain": false, "grid": true, "gridDash": [2, 2], "gridColor": "#c8c8c8", "title": "Ranked list metric (Signal2Noise)", "titleFontSize": 12, "titleFontWeight": "normal", "titlePadding": 5, "labelPadding": 2}},
        "y2": {"datum": 0}}},
      {"data": {"values": [{}]}, "mark": {"type": "rule", "strokeWidth": 1}, "encoding": {"y": {"datum": 0, "type": "quantitative"}, "color": {"datum": "Ranking metric scores", "type": "nominal", "scale": {"domain": ["Enrichment profile", "Hits", "Ranking metric scores"], "range": ["#22ee22", "#333333", "#c4c4c4"]}, "legend": {"orient": "none", "legendX": 22, "legendY": 159, "direction": "horizontal", "title": null, "symbolType": "stroke", "symbolStrokeWidth": 3, "symbolSize": 250, "labelFontSize": 12, "labelColor": "#111", "strokeColor": "#222", "padding": 4, "columnPadding": 4, "labelOffset": 2}}}},
      {"data": {"values": [{}]}, "mark": {"type": "rule", "strokeDash": [3, 3], "color": "#888", "strokeWidth": 1}, "encoding": {"x": {"datum": 10820}, "y": {"datum": 0.28, "type": "quantitative"}, "y2": {"datum": -0.19}}},
      {"data": {"values": [{}]}, "mark": {"type": "text", "text": "Zero cross at 10820", "fontSize": 9, "baseline": "bottom", "dy": -3, "color": "#222"}, "encoding": {"x": {"datum": 10820}, "y": {"datum": 0, "type": "quantitative"}}},
      {"data": {"values": [{}]}, "mark": {"type": "text", "text": "'High' (positively correlated)", "fontSize": 9.5, "fontWeight": "bold", "align": "left", "baseline": "top", "dx": 2, "dy": 2, "color": "#ee2222"}, "encoding": {"x": {"datum": 0}, "y": {"datum": 0.28, "type": "quantitative"}}},
      {"data": {"values": [{}]}, "mark": {"type": "text", "text": "'Low' (negatively correlated)", "fontSize": 9.5, "fontWeight": "bold", "align": "left", "baseline": "bottom", "color": "#3333ee"}, "encoding": {"x": {"datum": 10820}, "y": {"datum": -0.2, "type": "quantitative"}}}
     ]}
   ]}
 ]}
]},
{"spacing": 383, "resolve": {"scale": {"color": "independent"}}, "hconcat": [
 {"spacing": 0, "hconcat": [
  {"width": 98, "height": 20, "data": {"values": [{}]}, "mark": {"type": "text", "text": " "}},
  {"width": 212, "height": 267, "view": {"stroke": "#000", "strokeWidth": 2},
   "title": {"text": "e", "anchor": "start", "frame": "bounds", "fontSize": 32, "fontWeight": "bold", "font": "Liberation Sans", "offset": -10},
   "layer": [
    {"data": {"name": "sc_e1"}, "mark": {"type": "circle", "size": 62, "color": "#8fbdf0", "opacity": 1}, "encoding": {
      "x": {"field": "x", "type": "quantitative", "scale": {"domain": [5, 15], "nice": false, "zero": false}, "axis": {"values": [5, 10, 15], "tickCount": 3, "labelFont": "DejaVu Sans Condensed", "labelFontSize": 15, "labelColor": "#000", "domainColor": "#000", "domainWidth": 2, "tickColor": "#000", "tickWidth": 2, "tickSize": 5, "labelPadding": 10, "labelFlush": false, "title": "CCL20", "titleFont": "DejaVu Sans Condensed", "titleFontSize": 19, "titleFontWeight": "normal", "titleColor": "#000", "titlePadding": 6, "grid": false}},
      "y": {"field": "y", "type": "quantitative", "scale": {"domain": [9, 16], "nice": false, "zero": false}, "axis": {"values": [10, 12, 14, 16], "tickCount": 4, "labelFont": "DejaVu Sans Condensed", "labelFontSize": 15, "labelColor": "#000", "domainColor": "#000", "domainWidth": 2, "tickColor": "#000", "tickWidth": 2, "tickSize": 5, "labelPadding": 1, "labelFlush": false, "title": "CD44", "titleFont": "Liberation Sans", "titleFontSize": 17, "titleFontWeight": "bold", "titleColor": "#000", "titlePadding": 3, "grid": false}}}},
    {"data": {"name": "ln_e1"}, "mark": {"type": "line", "color": "#000", "strokeWidth": 2}, "encoding": {"x": {"field": "x", "type": "quantitative"}, "y": {"field": "y", "type": "quantitative"}}},
    {"data": {"values": [{"t": "P=0.0168", "x": 14.22, "y": 10.26}, {"t": "R=0.1969", "x": 14.22, "y": 9.4}]}, "mark": {"type": "text", "align": "right", "baseline": "middle", "fontSize": 18, "font": "DejaVu Sans Condensed", "color": "#000"}, "encoding": {"text": {"field": "t"}, "x": {"field": "x", "type": "quantitative"}, "y": {"field": "y", "type": "quantitative"}}}
   ]},
  {"width": 212, "height": 267, "view": {"stroke": "#000", "strokeWidth": 2},
   "layer": [
    {"data": {"name": "sc_e2"}, "mark": {"type": "circle", "size": 62, "color": "#8fbdf0", "opacity": 1}, "encoding": {
      "x": {"field": "x", "type": "quantitative", "scale": {"domain": [5, 15], "nice": false, "zero": false}, "axis": {"values": [5, 10, 15], "tickCount": 3, "labelFont": "DejaVu Sans Condensed", "labelFontSize": 15, "labelColor": "#000", "domainColor": "#000", "domainWidth": 2, "tickColor": "#000", "tickWidth": 2, "tickSize": 5, "labelPadding": 10, "labelFlush": false, "title": "CCL20", "titleFont": "DejaVu Sans Condensed", "titleFontSize": 19, "titleFontWeight": "normal", "titleColor": "#000", "titlePadding": 6, "grid": false}},
      "y": {"field": "y", "type": "quantitative", "scale": {"domain": [0, 15], "nice": false, "zero": false}, "axis": {"values": [0, 5, 10, 15], "tickCount": 4, "labelFont": "DejaVu Sans Condensed", "labelFontSize": 15, "labelColor": "#000", "domainColor": "#000", "domainWidth": 2, "tickColor": "#000", "tickWidth": 2, "tickSize": 5, "labelPadding": 1, "labelFlush": false, "title": "MMP3", "titleFont": "Liberation Sans", "titleFontSize": 17, "titleFontWeight": "bold", "titleColor": "#000", "titlePadding": 3, "grid": false}}}},
    {"data": {"name": "ln_e2"}, "mark": {"type": "line", "color": "#000", "strokeWidth": 2}, "encoding": {"x": {"field": "x", "type": "quantitative"}, "y": {"field": "y", "type": "quantitative"}}},
    {"data": {"values": [{"t": "P=0.0068", "x": 14.14, "y": 2.75}, {"t": "R=0.2203", "x": 14.14, "y": 0.79}]}, "mark": {"type": "text", "align": "right", "baseline": "middle", "fontSize": 18, "font": "DejaVu Sans Condensed", "color": "#000"}, "encoding": {"text": {"field": "t"}, "x": {"field": "x", "type": "quantitative"}, "y": {"field": "y", "type": "quantitative"}}}
   ]}
 ]},
 {"spacing": 0, "hconcat": [
  {"width": 197, "height": 267, "view": {"stroke": "#000", "strokeWidth": 2},
   "title": {"text": "f", "anchor": "start", "frame": "bounds", "fontSize": 32, "fontWeight": "bold", "font": "Liberation Sans", "offset": -10, "dx": 14},
   "layer": [
    {"data": {"name": "sc_f1"}, "mark": {"type": "circle", "size": 62, "color": "#8fbdf0", "opacity": 1}, "encoding": {
      "x": {"field": "x", "type": "quantitative", "scale": {"domain": [0, 7], "nice": false, "zero": false}, "axis": {"values": [0, 2, 4, 6], "tickCount": 4, "labelFont": "DejaVu Sans Condensed", "labelFontSize": 15, "labelColor": "#000", "domainColor": "#000", "domainWidth": 2, "tickColor": "#000", "tickWidth": 2, "tickSize": 5, "labelPadding": 10, "labelFlush": false, "title": "IL-17A", "titleFont": "DejaVu Sans Condensed", "titleFontSize": 19, "titleFontWeight": "normal", "titleColor": "#000", "titlePadding": 6, "grid": false}},
      "y": {"field": "y", "type": "quantitative", "scale": {"domain": [10, 15], "nice": false, "zero": false}, "axis": {"values": [10, 12, 14], "tickCount": 3, "labelFont": "DejaVu Sans Condensed", "labelFontSize": 15, "labelColor": "#000", "domainColor": "#000", "domainWidth": 2, "tickColor": "#000", "tickWidth": 2, "tickSize": 5, "labelPadding": 1, "labelFlush": false, "title": "CD44", "titleFont": "Liberation Sans", "titleFontSize": 17, "titleFontWeight": "bold", "titleColor": "#000", "titlePadding": 3, "grid": false}}}},
    {"data": {"name": "ln_f1"}, "mark": {"type": "line", "color": "#000", "strokeWidth": 2}, "encoding": {"x": {"field": "x", "type": "quantitative"}, "y": {"field": "y", "type": "quantitative"}}},
    {"data": {"values": [{"t": "P=0.0063", "x": 6.31, "y": 10.91}, {"t": "R=0.2522", "x": 6.31, "y": 10.26}]}, "mark": {"type": "text", "align": "right", "baseline": "middle", "fontSize": 18, "font": "DejaVu Sans Condensed", "color": "#000"}, "encoding": {"text": {"field": "t"}, "x": {"field": "x", "type": "quantitative"}, "y": {"field": "y", "type": "quantitative"}}}
   ]},
  {"width": 199, "height": 267, "view": {"stroke": "#000", "strokeWidth": 2},
   "layer": [
    {"data": {"name": "sc_f2"}, "mark": {"type": "circle", "size": 62, "color": "#8fbdf0", "opacity": 1}, "encoding": {
      "x": {"field": "x", "type": "quantitative", "scale": {"domain": [0, 7], "nice": false, "zero": false}, "axis": {"values": [0, 2, 4, 6], "tickCount": 4, "labelFont": "DejaVu Sans Condensed", "labelFontSize": 15, "labelColor": "#000", "domainColor": "#000", "domainWidth": 2, "tickColor": "#000", "tickWidth": 2, "tickSize": 5, "labelPadding": 10, "labelFlush": false, "title": "IL-17A", "titleFont": "DejaVu Sans Condensed", "titleFontSize": 19, "titleFontWeight": "normal", "titleColor": "#000", "titlePadding": 6, "grid": false}},
      "y": {"field": "y", "type": "quantitative", "scale": {"domain": [0, 15], "nice": false, "zero": false}, "axis": {"values": [0, 5, 10, 15], "tickCount": 4, "labelFont": "DejaVu Sans Condensed", "labelFontSize": 15, "labelColor": "#000", "domainColor": "#000", "domainWidth": 2, "tickColor": "#000", "tickWidth": 2, "tickSize": 5, "labelPadding": 1, "labelFlush": false, "title": "MMP3", "titleFont": "Liberation Sans", "titleFontSize": 17, "titleFontWeight": "bold", "titleColor": "#000", "titlePadding": 3, "grid": false}}}},
    {"data": {"name": "ln_f2"}, "mark": {"type": "line", "color": "#000", "strokeWidth": 2}, "encoding": {"x": {"field": "x", "type": "quantitative"}, "y": {"field": "y", "type": "quantitative"}}},
    {"data": {"values": [{"t": "P=0.0012", "x": 6.5, "y": 2.75}, {"t": "R=0.2961", "x": 6.5, "y": 0.79}]}, "mark": {"type": "text", "align": "right", "baseline": "middle", "fontSize": 18, "font": "DejaVu Sans Condensed", "color": "#000"}, "encoding": {"text": {"field": "t"}, "x": {"field": "x", "type": "quantitative"}, "y": {"field": "y", "type": "quantitative"}}}
   ]}
 ]}
]}
]}
]
}
]
}
